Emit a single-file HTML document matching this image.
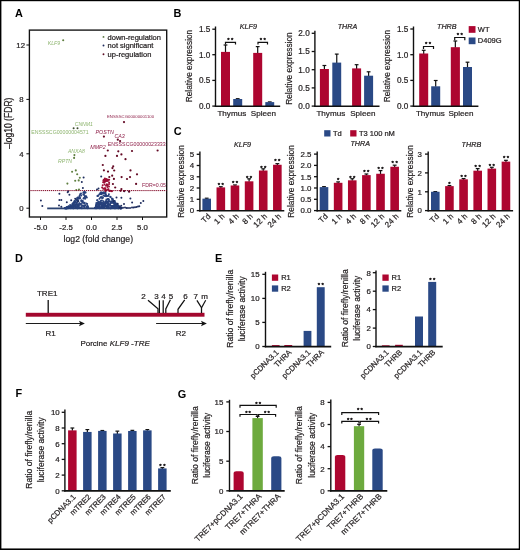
<!DOCTYPE html>
<html lang="en">
<head>
<meta charset="utf-8">
<title>Figure</title>
<style>
html,body{margin:0;padding:0;background:#fff;}
body{width:520px;height:550px;overflow:hidden;}
svg{display:block;font-family:"Liberation Sans",sans-serif;}
text{stroke-width:0.22px;paint-order:stroke;stroke-linejoin:round;}
text.k{stroke:#231F20;}
</style>
</head>
<body>
<svg width="520" height="550" viewBox="0 0 520 550">
<rect x="0" y="0" width="520" height="550" fill="#ffffff"/>
<text font-size="10.9" text-anchor="start" fill="#000" font-weight="bold" x="15.00" y="16.70" >A</text>
<text font-size="10.9" text-anchor="start" fill="#000" font-weight="bold" x="173.60" y="16.70" >B</text>
<text font-size="10.9" text-anchor="start" fill="#000" font-weight="bold" x="173.80" y="134.80" >C</text>
<text font-size="10.9" text-anchor="start" fill="#000" font-weight="bold" x="15.00" y="262.10" >D</text>
<text font-size="10.9" text-anchor="start" fill="#000" font-weight="bold" x="215.00" y="261.70" >E</text>
<text font-size="10.9" text-anchor="start" fill="#000" font-weight="bold" x="15.60" y="397.40" >F</text>
<text font-size="10.9" text-anchor="start" fill="#000" font-weight="bold" x="177.80" y="397.70" >G</text>
<rect x="29.4" y="30.1" width="137.29999999999998" height="186.9" fill="none" stroke="#111111" stroke-width="1.35"/>
<line x1="26.40" y1="208.20" x2="29.40" y2="208.20" stroke="#111111" stroke-width="1.0" />
<text font-size="7.8" text-anchor="end" fill="#231F20" class="k" x="23.60" y="211.00" >0</text>
<line x1="26.40" y1="153.80" x2="29.40" y2="153.80" stroke="#111111" stroke-width="1.0" />
<text font-size="7.8" text-anchor="end" fill="#231F20" class="k" x="23.60" y="156.60" >4</text>
<line x1="26.40" y1="99.40" x2="29.40" y2="99.40" stroke="#111111" stroke-width="1.0" />
<text font-size="7.8" text-anchor="end" fill="#231F20" class="k" x="23.60" y="102.20" >8</text>
<line x1="26.40" y1="45.00" x2="29.40" y2="45.00" stroke="#111111" stroke-width="1.0" />
<text font-size="7.8" text-anchor="end" fill="#231F20" class="k" x="25.00" y="47.80" >12</text>
<line x1="40.50" y1="217.00" x2="40.50" y2="220.00" stroke="#111111" stroke-width="1.0" />
<text font-size="7.8" text-anchor="middle" fill="#231F20" class="k" x="40.50" y="230.00" >-5.0</text>
<line x1="66.00" y1="217.00" x2="66.00" y2="220.00" stroke="#111111" stroke-width="1.0" />
<text font-size="7.8" text-anchor="middle" fill="#231F20" class="k" x="66.00" y="230.00" >-2.5</text>
<line x1="91.50" y1="217.00" x2="91.50" y2="220.00" stroke="#111111" stroke-width="1.0" />
<text font-size="7.8" text-anchor="middle" fill="#231F20" class="k" x="91.50" y="230.00" >0.0</text>
<line x1="117.00" y1="217.00" x2="117.00" y2="220.00" stroke="#111111" stroke-width="1.0" />
<text font-size="7.8" text-anchor="middle" fill="#231F20" class="k" x="117.00" y="230.00" >2.5</text>
<line x1="142.50" y1="217.00" x2="142.50" y2="220.00" stroke="#111111" stroke-width="1.0" />
<text font-size="7.8" text-anchor="middle" fill="#231F20" class="k" x="142.50" y="230.00" >5.0</text>
<text transform="translate(12.20,123.30) rotate(-90)" class="k" font-size="10.2" text-anchor="middle" fill="#231F20" textLength="51.5" lengthAdjust="spacingAndGlyphs">–log10 (FDR)</text>
<text font-size="9.8" text-anchor="middle" fill="#231F20" class="k" textLength="69.5" lengthAdjust="spacingAndGlyphs" x="98.30" y="242.20" >log2 (fold change)</text>
<rect x="47.20" y="207.50" width="72.00" height="1.80" fill="#2B4270"/>
<circle cx="72.5" cy="207.9" r="1.0" fill="#27417C"/>
<circle cx="80.2" cy="207.9" r="1.0" fill="#27417C"/>
<circle cx="77.5" cy="205.8" r="1.0" fill="#27417C"/>
<circle cx="66.4" cy="208.0" r="1.0" fill="#27417C"/>
<circle cx="65.9" cy="208.1" r="1.0" fill="#27417C"/>
<circle cx="66.6" cy="208.2" r="1.0" fill="#27417C"/>
<circle cx="74.9" cy="202.1" r="1.0" fill="#27417C"/>
<circle cx="67.9" cy="208.0" r="1.0" fill="#27417C"/>
<circle cx="79.6" cy="195.8" r="1.0" fill="#27417C"/>
<circle cx="78.4" cy="205.2" r="1.0" fill="#27417C"/>
<circle cx="87.7" cy="208.2" r="1.0" fill="#27417C"/>
<circle cx="85.0" cy="205.6" r="1.0" fill="#27417C"/>
<circle cx="68.4" cy="208.1" r="1.0" fill="#27417C"/>
<circle cx="72.2" cy="204.3" r="1.0" fill="#27417C"/>
<circle cx="69.2" cy="207.0" r="1.0" fill="#27417C"/>
<circle cx="79.9" cy="205.1" r="1.0" fill="#27417C"/>
<circle cx="77.8" cy="208.0" r="1.0" fill="#27417C"/>
<circle cx="66.4" cy="208.1" r="1.0" fill="#27417C"/>
<circle cx="80.9" cy="204.0" r="1.0" fill="#27417C"/>
<circle cx="72.3" cy="205.7" r="1.0" fill="#27417C"/>
<circle cx="75.6" cy="206.8" r="1.0" fill="#27417C"/>
<circle cx="83.5" cy="198.6" r="1.0" fill="#27417C"/>
<circle cx="70.7" cy="206.5" r="1.0" fill="#27417C"/>
<circle cx="77.2" cy="199.4" r="1.0" fill="#27417C"/>
<circle cx="82.0" cy="205.7" r="1.0" fill="#27417C"/>
<circle cx="87.8" cy="208.1" r="1.0" fill="#27417C"/>
<circle cx="74.7" cy="203.0" r="1.0" fill="#27417C"/>
<circle cx="68.5" cy="207.5" r="1.0" fill="#27417C"/>
<circle cx="65.9" cy="208.0" r="1.0" fill="#27417C"/>
<circle cx="82.8" cy="201.1" r="1.0" fill="#27417C"/>
<circle cx="85.4" cy="205.3" r="1.0" fill="#27417C"/>
<circle cx="81.2" cy="201.1" r="1.0" fill="#27417C"/>
<circle cx="78.5" cy="204.5" r="1.0" fill="#27417C"/>
<circle cx="84.6" cy="193.1" r="1.0" fill="#27417C"/>
<circle cx="76.0" cy="203.1" r="1.0" fill="#27417C"/>
<circle cx="66.4" cy="207.8" r="1.0" fill="#27417C"/>
<circle cx="80.1" cy="194.3" r="1.0" fill="#27417C"/>
<circle cx="84.2" cy="205.7" r="1.0" fill="#27417C"/>
<circle cx="74.0" cy="204.3" r="1.0" fill="#27417C"/>
<circle cx="65.5" cy="208.1" r="1.0" fill="#27417C"/>
<circle cx="68.9" cy="208.1" r="1.0" fill="#27417C"/>
<circle cx="66.4" cy="207.8" r="1.0" fill="#27417C"/>
<circle cx="68.0" cy="208.0" r="1.0" fill="#27417C"/>
<circle cx="74.1" cy="202.3" r="1.0" fill="#27417C"/>
<circle cx="66.9" cy="207.9" r="1.0" fill="#27417C"/>
<circle cx="77.8" cy="198.8" r="1.0" fill="#27417C"/>
<circle cx="84.1" cy="195.0" r="1.0" fill="#27417C"/>
<circle cx="71.5" cy="206.9" r="1.0" fill="#27417C"/>
<circle cx="73.4" cy="202.8" r="1.0" fill="#27417C"/>
<circle cx="87.3" cy="207.8" r="1.0" fill="#27417C"/>
<circle cx="69.1" cy="207.9" r="1.0" fill="#27417C"/>
<circle cx="70.4" cy="206.9" r="1.0" fill="#27417C"/>
<circle cx="78.7" cy="206.5" r="1.0" fill="#27417C"/>
<circle cx="65.1" cy="208.2" r="1.0" fill="#27417C"/>
<circle cx="73.6" cy="205.3" r="1.0" fill="#27417C"/>
<circle cx="87.2" cy="203.9" r="1.0" fill="#27417C"/>
<circle cx="77.0" cy="203.1" r="1.0" fill="#27417C"/>
<circle cx="80.8" cy="208.0" r="1.0" fill="#27417C"/>
<circle cx="86.0" cy="196.9" r="1.0" fill="#27417C"/>
<circle cx="85.4" cy="196.5" r="1.0" fill="#27417C"/>
<circle cx="74.1" cy="206.4" r="1.0" fill="#27417C"/>
<circle cx="67.4" cy="207.5" r="1.0" fill="#27417C"/>
<circle cx="66.5" cy="208.2" r="1.0" fill="#27417C"/>
<circle cx="69.9" cy="208.0" r="1.0" fill="#27417C"/>
<circle cx="72.9" cy="208.1" r="1.0" fill="#27417C"/>
<circle cx="65.0" cy="208.2" r="1.0" fill="#27417C"/>
<circle cx="67.4" cy="207.9" r="1.0" fill="#27417C"/>
<circle cx="65.6" cy="208.0" r="1.0" fill="#27417C"/>
<circle cx="79.3" cy="207.4" r="1.0" fill="#27417C"/>
<circle cx="70.9" cy="207.4" r="1.0" fill="#27417C"/>
<circle cx="73.5" cy="207.9" r="1.0" fill="#27417C"/>
<circle cx="84.8" cy="192.0" r="1.0" fill="#27417C"/>
<circle cx="75.9" cy="205.1" r="1.0" fill="#27417C"/>
<circle cx="67.0" cy="208.2" r="1.0" fill="#27417C"/>
<circle cx="73.0" cy="207.4" r="1.0" fill="#27417C"/>
<circle cx="84.3" cy="207.1" r="1.0" fill="#27417C"/>
<circle cx="65.5" cy="208.0" r="1.0" fill="#27417C"/>
<circle cx="77.3" cy="207.6" r="1.0" fill="#27417C"/>
<circle cx="77.7" cy="208.2" r="1.0" fill="#27417C"/>
<circle cx="77.3" cy="197.8" r="1.0" fill="#27417C"/>
<circle cx="85.1" cy="198.7" r="1.0" fill="#27417C"/>
<circle cx="71.1" cy="207.2" r="1.0" fill="#27417C"/>
<circle cx="68.9" cy="206.6" r="1.0" fill="#27417C"/>
<circle cx="77.4" cy="200.7" r="1.0" fill="#27417C"/>
<circle cx="72.7" cy="207.6" r="1.0" fill="#27417C"/>
<circle cx="83.9" cy="192.2" r="1.0" fill="#27417C"/>
<circle cx="84.9" cy="196.3" r="1.0" fill="#27417C"/>
<circle cx="84.1" cy="197.8" r="1.0" fill="#27417C"/>
<circle cx="70.3" cy="206.9" r="1.0" fill="#27417C"/>
<circle cx="73.3" cy="208.2" r="1.0" fill="#27417C"/>
<circle cx="65.7" cy="208.2" r="1.0" fill="#27417C"/>
<circle cx="71.0" cy="205.7" r="1.0" fill="#27417C"/>
<circle cx="87.3" cy="206.2" r="1.0" fill="#27417C"/>
<circle cx="86.8" cy="197.4" r="1.0" fill="#27417C"/>
<circle cx="87.3" cy="206.6" r="1.0" fill="#27417C"/>
<circle cx="70.1" cy="207.8" r="1.0" fill="#27417C"/>
<circle cx="69.6" cy="207.9" r="1.0" fill="#27417C"/>
<circle cx="79.5" cy="196.8" r="1.0" fill="#27417C"/>
<circle cx="84.6" cy="202.8" r="1.0" fill="#27417C"/>
<circle cx="80.2" cy="198.0" r="1.0" fill="#27417C"/>
<circle cx="67.0" cy="207.7" r="1.0" fill="#27417C"/>
<circle cx="86.2" cy="196.9" r="1.0" fill="#27417C"/>
<circle cx="82.5" cy="202.8" r="1.0" fill="#27417C"/>
<circle cx="69.2" cy="206.4" r="1.0" fill="#27417C"/>
<circle cx="72.7" cy="204.0" r="1.0" fill="#27417C"/>
<circle cx="87.6" cy="207.2" r="1.0" fill="#27417C"/>
<circle cx="74.4" cy="201.3" r="1.0" fill="#27417C"/>
<circle cx="81.9" cy="207.1" r="1.0" fill="#27417C"/>
<circle cx="68.0" cy="208.1" r="1.0" fill="#27417C"/>
<circle cx="86.1" cy="196.3" r="1.0" fill="#27417C"/>
<circle cx="68.4" cy="206.7" r="1.0" fill="#27417C"/>
<circle cx="87.8" cy="206.9" r="1.0" fill="#27417C"/>
<circle cx="73.2" cy="205.6" r="1.0" fill="#27417C"/>
<circle cx="68.1" cy="208.2" r="1.0" fill="#27417C"/>
<circle cx="87.6" cy="206.1" r="1.0" fill="#27417C"/>
<circle cx="77.3" cy="198.5" r="1.0" fill="#27417C"/>
<circle cx="75.1" cy="201.4" r="1.0" fill="#27417C"/>
<circle cx="84.2" cy="206.6" r="1.0" fill="#27417C"/>
<circle cx="70.9" cy="207.5" r="1.0" fill="#27417C"/>
<circle cx="70.6" cy="206.5" r="1.0" fill="#27417C"/>
<circle cx="71.0" cy="207.0" r="1.0" fill="#27417C"/>
<circle cx="68.1" cy="206.7" r="1.0" fill="#27417C"/>
<circle cx="73.2" cy="206.2" r="1.0" fill="#27417C"/>
<circle cx="78.6" cy="197.7" r="1.0" fill="#27417C"/>
<circle cx="74.8" cy="201.2" r="1.0" fill="#27417C"/>
<circle cx="76.7" cy="204.3" r="1.0" fill="#27417C"/>
<circle cx="77.2" cy="208.2" r="1.0" fill="#27417C"/>
<circle cx="75.3" cy="207.5" r="1.0" fill="#27417C"/>
<circle cx="65.1" cy="208.2" r="1.0" fill="#27417C"/>
<circle cx="69.0" cy="207.4" r="1.0" fill="#27417C"/>
<circle cx="81.9" cy="201.4" r="1.0" fill="#27417C"/>
<circle cx="72.6" cy="206.1" r="1.0" fill="#27417C"/>
<circle cx="77.9" cy="200.2" r="1.0" fill="#27417C"/>
<circle cx="67.5" cy="207.6" r="1.0" fill="#27417C"/>
<circle cx="70.8" cy="207.6" r="1.0" fill="#27417C"/>
<circle cx="83.0" cy="202.3" r="1.0" fill="#27417C"/>
<circle cx="78.1" cy="200.5" r="1.0" fill="#27417C"/>
<circle cx="86.3" cy="203.4" r="1.0" fill="#27417C"/>
<circle cx="79.3" cy="203.5" r="1.0" fill="#27417C"/>
<circle cx="76.9" cy="202.2" r="1.0" fill="#27417C"/>
<circle cx="75.5" cy="204.8" r="1.0" fill="#27417C"/>
<circle cx="76.1" cy="199.6" r="1.0" fill="#27417C"/>
<circle cx="81.3" cy="195.5" r="1.0" fill="#27417C"/>
<circle cx="87.0" cy="206.9" r="1.0" fill="#27417C"/>
<circle cx="78.0" cy="197.6" r="1.0" fill="#27417C"/>
<circle cx="84.6" cy="207.4" r="1.0" fill="#27417C"/>
<circle cx="67.8" cy="207.7" r="1.0" fill="#27417C"/>
<circle cx="66.7" cy="208.1" r="1.0" fill="#27417C"/>
<circle cx="66.7" cy="207.7" r="1.0" fill="#27417C"/>
<circle cx="83.3" cy="194.3" r="1.0" fill="#27417C"/>
<circle cx="68.6" cy="206.9" r="1.0" fill="#27417C"/>
<circle cx="80.4" cy="207.4" r="1.0" fill="#27417C"/>
<circle cx="85.6" cy="192.6" r="1.0" fill="#27417C"/>
<circle cx="70.1" cy="205.0" r="1.0" fill="#27417C"/>
<circle cx="74.3" cy="205.7" r="1.0" fill="#27417C"/>
<circle cx="88.1" cy="207.4" r="1.0" fill="#27417C"/>
<circle cx="68.8" cy="207.5" r="1.0" fill="#27417C"/>
<circle cx="77.0" cy="206.1" r="1.0" fill="#27417C"/>
<circle cx="69.6" cy="207.7" r="1.0" fill="#27417C"/>
<circle cx="81.8" cy="208.2" r="1.0" fill="#27417C"/>
<circle cx="77.9" cy="204.8" r="1.0" fill="#27417C"/>
<circle cx="65.4" cy="208.2" r="1.0" fill="#27417C"/>
<circle cx="79.5" cy="203.3" r="1.0" fill="#27417C"/>
<circle cx="66.5" cy="207.5" r="1.0" fill="#27417C"/>
<circle cx="83.4" cy="192.5" r="1.0" fill="#27417C"/>
<circle cx="67.4" cy="208.0" r="1.0" fill="#27417C"/>
<circle cx="65.9" cy="207.9" r="1.0" fill="#27417C"/>
<circle cx="71.3" cy="208.0" r="1.0" fill="#27417C"/>
<circle cx="74.8" cy="201.2" r="1.0" fill="#27417C"/>
<circle cx="84.1" cy="206.0" r="1.0" fill="#27417C"/>
<circle cx="68.5" cy="206.4" r="1.0" fill="#27417C"/>
<circle cx="78.3" cy="201.2" r="1.0" fill="#27417C"/>
<circle cx="67.1" cy="208.2" r="1.0" fill="#27417C"/>
<circle cx="81.0" cy="204.0" r="1.0" fill="#27417C"/>
<circle cx="66.7" cy="207.5" r="1.0" fill="#27417C"/>
<circle cx="79.8" cy="198.4" r="1.0" fill="#27417C"/>
<circle cx="67.0" cy="207.4" r="1.0" fill="#27417C"/>
<circle cx="66.6" cy="207.6" r="1.0" fill="#27417C"/>
<circle cx="75.6" cy="206.5" r="1.0" fill="#27417C"/>
<circle cx="77.9" cy="198.0" r="1.0" fill="#27417C"/>
<circle cx="71.2" cy="208.0" r="1.0" fill="#27417C"/>
<circle cx="77.3" cy="206.9" r="1.0" fill="#27417C"/>
<circle cx="67.6" cy="208.1" r="1.0" fill="#27417C"/>
<circle cx="66.2" cy="208.2" r="1.0" fill="#27417C"/>
<circle cx="72.3" cy="207.3" r="1.0" fill="#27417C"/>
<circle cx="82.7" cy="205.6" r="1.0" fill="#27417C"/>
<circle cx="76.7" cy="207.4" r="1.0" fill="#27417C"/>
<circle cx="73.1" cy="208.2" r="1.0" fill="#27417C"/>
<circle cx="70.8" cy="208.2" r="1.0" fill="#27417C"/>
<circle cx="82.1" cy="201.5" r="1.0" fill="#27417C"/>
<circle cx="69.4" cy="207.3" r="1.0" fill="#27417C"/>
<circle cx="86.8" cy="207.8" r="1.0" fill="#27417C"/>
<circle cx="84.1" cy="203.5" r="1.0" fill="#27417C"/>
<circle cx="76.5" cy="200.6" r="1.0" fill="#27417C"/>
<circle cx="74.2" cy="205.6" r="1.0" fill="#27417C"/>
<circle cx="81.0" cy="193.4" r="1.0" fill="#27417C"/>
<circle cx="73.0" cy="203.5" r="1.0" fill="#27417C"/>
<circle cx="81.5" cy="200.2" r="1.0" fill="#27417C"/>
<circle cx="74.4" cy="206.6" r="1.0" fill="#27417C"/>
<circle cx="66.3" cy="208.2" r="1.0" fill="#27417C"/>
<circle cx="97.1" cy="200.3" r="1.0" fill="#27417C"/>
<circle cx="101.9" cy="207.1" r="1.0" fill="#27417C"/>
<circle cx="97.4" cy="196.1" r="1.0" fill="#27417C"/>
<circle cx="118.1" cy="206.6" r="1.0" fill="#27417C"/>
<circle cx="102.6" cy="206.2" r="1.0" fill="#27417C"/>
<circle cx="102.9" cy="203.1" r="1.0" fill="#27417C"/>
<circle cx="99.3" cy="203.3" r="1.0" fill="#27417C"/>
<circle cx="102.1" cy="192.7" r="1.0" fill="#27417C"/>
<circle cx="120.8" cy="208.0" r="1.0" fill="#27417C"/>
<circle cx="101.6" cy="192.6" r="1.0" fill="#27417C"/>
<circle cx="103.3" cy="204.7" r="1.0" fill="#27417C"/>
<circle cx="95.2" cy="208.2" r="1.0" fill="#27417C"/>
<circle cx="107.7" cy="202.4" r="1.0" fill="#27417C"/>
<circle cx="100.5" cy="202.3" r="1.0" fill="#27417C"/>
<circle cx="95.3" cy="208.1" r="1.0" fill="#27417C"/>
<circle cx="97.6" cy="204.1" r="1.0" fill="#27417C"/>
<circle cx="96.3" cy="208.2" r="1.0" fill="#27417C"/>
<circle cx="103.2" cy="206.4" r="1.0" fill="#27417C"/>
<circle cx="110.6" cy="203.2" r="1.0" fill="#27417C"/>
<circle cx="114.9" cy="204.6" r="1.0" fill="#27417C"/>
<circle cx="114.0" cy="201.6" r="1.0" fill="#27417C"/>
<circle cx="105.4" cy="205.1" r="1.0" fill="#27417C"/>
<circle cx="121.1" cy="208.2" r="1.0" fill="#27417C"/>
<circle cx="114.2" cy="204.2" r="1.0" fill="#27417C"/>
<circle cx="96.4" cy="203.1" r="1.0" fill="#27417C"/>
<circle cx="118.7" cy="207.1" r="1.0" fill="#27417C"/>
<circle cx="114.5" cy="202.8" r="1.0" fill="#27417C"/>
<circle cx="98.9" cy="202.0" r="1.0" fill="#27417C"/>
<circle cx="108.5" cy="195.7" r="1.0" fill="#27417C"/>
<circle cx="116.4" cy="204.5" r="1.0" fill="#27417C"/>
<circle cx="110.6" cy="197.1" r="1.0" fill="#27417C"/>
<circle cx="113.2" cy="202.9" r="1.0" fill="#27417C"/>
<circle cx="101.2" cy="208.1" r="1.0" fill="#27417C"/>
<circle cx="98.7" cy="204.6" r="1.0" fill="#27417C"/>
<circle cx="98.0" cy="195.7" r="1.0" fill="#27417C"/>
<circle cx="109.9" cy="201.2" r="1.0" fill="#27417C"/>
<circle cx="111.7" cy="201.8" r="1.0" fill="#27417C"/>
<circle cx="108.1" cy="208.2" r="1.0" fill="#27417C"/>
<circle cx="116.2" cy="204.9" r="1.0" fill="#27417C"/>
<circle cx="108.4" cy="201.8" r="1.0" fill="#27417C"/>
<circle cx="112.5" cy="208.0" r="1.0" fill="#27417C"/>
<circle cx="114.6" cy="207.3" r="1.0" fill="#27417C"/>
<circle cx="97.2" cy="206.4" r="1.0" fill="#27417C"/>
<circle cx="114.4" cy="207.5" r="1.0" fill="#27417C"/>
<circle cx="114.7" cy="201.3" r="1.0" fill="#27417C"/>
<circle cx="108.2" cy="204.3" r="1.0" fill="#27417C"/>
<circle cx="107.8" cy="198.9" r="1.0" fill="#27417C"/>
<circle cx="115.4" cy="205.2" r="1.0" fill="#27417C"/>
<circle cx="112.1" cy="208.0" r="1.0" fill="#27417C"/>
<circle cx="99.1" cy="206.1" r="1.0" fill="#27417C"/>
<circle cx="114.7" cy="207.0" r="1.0" fill="#27417C"/>
<circle cx="110.1" cy="208.2" r="1.0" fill="#27417C"/>
<circle cx="96.8" cy="206.8" r="1.0" fill="#27417C"/>
<circle cx="112.9" cy="202.7" r="1.0" fill="#27417C"/>
<circle cx="113.0" cy="206.7" r="1.0" fill="#27417C"/>
<circle cx="108.8" cy="203.2" r="1.0" fill="#27417C"/>
<circle cx="107.5" cy="207.5" r="1.0" fill="#27417C"/>
<circle cx="118.7" cy="208.0" r="1.0" fill="#27417C"/>
<circle cx="120.9" cy="207.9" r="1.0" fill="#27417C"/>
<circle cx="95.7" cy="207.6" r="1.0" fill="#27417C"/>
<circle cx="116.8" cy="204.0" r="1.0" fill="#27417C"/>
<circle cx="107.0" cy="205.9" r="1.0" fill="#27417C"/>
<circle cx="100.7" cy="193.1" r="1.0" fill="#27417C"/>
<circle cx="100.7" cy="200.9" r="1.0" fill="#27417C"/>
<circle cx="98.9" cy="202.0" r="1.0" fill="#27417C"/>
<circle cx="120.3" cy="208.2" r="1.0" fill="#27417C"/>
<circle cx="116.8" cy="206.6" r="1.0" fill="#27417C"/>
<circle cx="118.5" cy="206.8" r="1.0" fill="#27417C"/>
<circle cx="101.3" cy="194.3" r="1.0" fill="#27417C"/>
<circle cx="108.0" cy="208.1" r="1.0" fill="#27417C"/>
<circle cx="95.3" cy="208.1" r="1.0" fill="#27417C"/>
<circle cx="107.1" cy="205.5" r="1.0" fill="#27417C"/>
<circle cx="98.9" cy="204.9" r="1.0" fill="#27417C"/>
<circle cx="103.5" cy="195.6" r="1.0" fill="#27417C"/>
<circle cx="95.2" cy="208.1" r="1.0" fill="#27417C"/>
<circle cx="117.3" cy="208.0" r="1.0" fill="#27417C"/>
<circle cx="119.6" cy="207.4" r="1.0" fill="#27417C"/>
<circle cx="118.9" cy="207.9" r="1.0" fill="#27417C"/>
<circle cx="105.0" cy="204.2" r="1.0" fill="#27417C"/>
<circle cx="121.5" cy="208.2" r="1.0" fill="#27417C"/>
<circle cx="104.7" cy="203.6" r="1.0" fill="#27417C"/>
<circle cx="102.4" cy="208.0" r="1.0" fill="#27417C"/>
<circle cx="97.9" cy="195.7" r="1.0" fill="#27417C"/>
<circle cx="102.7" cy="193.4" r="1.0" fill="#27417C"/>
<circle cx="101.8" cy="206.0" r="1.0" fill="#27417C"/>
<circle cx="108.6" cy="206.9" r="1.0" fill="#27417C"/>
<circle cx="105.0" cy="192.9" r="1.0" fill="#27417C"/>
<circle cx="118.5" cy="206.4" r="1.0" fill="#27417C"/>
<circle cx="111.8" cy="198.4" r="1.0" fill="#27417C"/>
<circle cx="119.9" cy="207.8" r="1.0" fill="#27417C"/>
<circle cx="114.1" cy="208.1" r="1.0" fill="#27417C"/>
<circle cx="114.5" cy="206.0" r="1.0" fill="#27417C"/>
<circle cx="115.0" cy="204.8" r="1.0" fill="#27417C"/>
<circle cx="102.7" cy="208.0" r="1.0" fill="#27417C"/>
<circle cx="119.6" cy="208.1" r="1.0" fill="#27417C"/>
<circle cx="107.6" cy="204.9" r="1.0" fill="#27417C"/>
<circle cx="103.0" cy="197.8" r="1.0" fill="#27417C"/>
<circle cx="120.9" cy="208.2" r="1.0" fill="#27417C"/>
<circle cx="112.5" cy="206.5" r="1.0" fill="#27417C"/>
<circle cx="109.9" cy="204.7" r="1.0" fill="#27417C"/>
<circle cx="99.6" cy="207.1" r="1.0" fill="#27417C"/>
<circle cx="100.7" cy="194.1" r="1.0" fill="#27417C"/>
<circle cx="108.3" cy="206.5" r="1.0" fill="#27417C"/>
<circle cx="119.0" cy="206.3" r="1.0" fill="#27417C"/>
<circle cx="107.0" cy="207.3" r="1.0" fill="#27417C"/>
<circle cx="100.3" cy="207.8" r="1.0" fill="#27417C"/>
<circle cx="104.2" cy="207.7" r="1.0" fill="#27417C"/>
<circle cx="101.5" cy="206.0" r="1.0" fill="#27417C"/>
<circle cx="110.2" cy="196.8" r="1.0" fill="#27417C"/>
<circle cx="114.9" cy="206.4" r="1.0" fill="#27417C"/>
<circle cx="106.1" cy="202.0" r="1.0" fill="#27417C"/>
<circle cx="105.1" cy="205.0" r="1.0" fill="#27417C"/>
<circle cx="96.8" cy="206.7" r="1.0" fill="#27417C"/>
<circle cx="120.7" cy="208.2" r="1.0" fill="#27417C"/>
<circle cx="108.4" cy="200.0" r="1.0" fill="#27417C"/>
<circle cx="117.9" cy="207.9" r="1.0" fill="#27417C"/>
<circle cx="102.3" cy="206.2" r="1.0" fill="#27417C"/>
<circle cx="105.7" cy="203.3" r="1.0" fill="#27417C"/>
<circle cx="120.3" cy="207.6" r="1.0" fill="#27417C"/>
<circle cx="118.2" cy="208.2" r="1.0" fill="#27417C"/>
<circle cx="96.0" cy="205.5" r="1.0" fill="#27417C"/>
<circle cx="118.8" cy="207.5" r="1.0" fill="#27417C"/>
<circle cx="110.6" cy="208.2" r="1.0" fill="#27417C"/>
<circle cx="105.5" cy="193.6" r="1.0" fill="#27417C"/>
<circle cx="116.9" cy="204.9" r="1.0" fill="#27417C"/>
<circle cx="120.8" cy="208.2" r="1.0" fill="#27417C"/>
<circle cx="98.1" cy="207.2" r="1.0" fill="#27417C"/>
<circle cx="108.9" cy="199.4" r="1.0" fill="#27417C"/>
<circle cx="120.0" cy="207.6" r="1.0" fill="#27417C"/>
<circle cx="112.2" cy="201.1" r="1.0" fill="#27417C"/>
<circle cx="107.2" cy="201.5" r="1.0" fill="#27417C"/>
<circle cx="96.2" cy="204.2" r="1.0" fill="#27417C"/>
<circle cx="101.3" cy="193.7" r="1.0" fill="#27417C"/>
<circle cx="112.2" cy="206.4" r="1.0" fill="#27417C"/>
<circle cx="98.6" cy="206.1" r="1.0" fill="#27417C"/>
<circle cx="111.9" cy="201.8" r="1.0" fill="#27417C"/>
<circle cx="98.1" cy="207.9" r="1.0" fill="#27417C"/>
<circle cx="109.0" cy="201.3" r="1.0" fill="#27417C"/>
<circle cx="105.4" cy="206.5" r="1.0" fill="#27417C"/>
<circle cx="111.0" cy="208.2" r="1.0" fill="#27417C"/>
<circle cx="103.1" cy="203.1" r="1.0" fill="#27417C"/>
<circle cx="120.4" cy="207.9" r="1.0" fill="#27417C"/>
<circle cx="118.4" cy="207.4" r="1.0" fill="#27417C"/>
<circle cx="101.4" cy="206.2" r="1.0" fill="#27417C"/>
<circle cx="120.5" cy="207.8" r="1.0" fill="#27417C"/>
<circle cx="103.3" cy="208.1" r="1.0" fill="#27417C"/>
<circle cx="108.3" cy="199.1" r="1.0" fill="#27417C"/>
<circle cx="106.2" cy="206.1" r="1.0" fill="#27417C"/>
<circle cx="112.8" cy="199.5" r="1.0" fill="#27417C"/>
<circle cx="101.2" cy="208.1" r="1.0" fill="#27417C"/>
<circle cx="104.1" cy="203.7" r="1.0" fill="#27417C"/>
<circle cx="113.2" cy="207.4" r="1.0" fill="#27417C"/>
<circle cx="116.2" cy="204.9" r="1.0" fill="#27417C"/>
<circle cx="108.5" cy="206.7" r="1.0" fill="#27417C"/>
<circle cx="120.7" cy="208.1" r="1.0" fill="#27417C"/>
<circle cx="116.8" cy="207.7" r="1.0" fill="#27417C"/>
<circle cx="101.0" cy="197.3" r="1.0" fill="#27417C"/>
<circle cx="103.0" cy="193.0" r="1.0" fill="#27417C"/>
<circle cx="108.2" cy="206.9" r="1.0" fill="#27417C"/>
<circle cx="101.1" cy="203.8" r="1.0" fill="#27417C"/>
<circle cx="112.7" cy="199.1" r="1.0" fill="#27417C"/>
<circle cx="99.0" cy="204.2" r="1.0" fill="#27417C"/>
<circle cx="100.8" cy="192.4" r="1.0" fill="#27417C"/>
<circle cx="98.9" cy="208.0" r="1.0" fill="#27417C"/>
<circle cx="96.8" cy="205.7" r="1.0" fill="#27417C"/>
<circle cx="118.8" cy="206.5" r="1.0" fill="#27417C"/>
<circle cx="114.5" cy="200.9" r="1.0" fill="#27417C"/>
<circle cx="119.7" cy="208.0" r="1.0" fill="#27417C"/>
<circle cx="100.1" cy="193.4" r="1.0" fill="#27417C"/>
<circle cx="114.8" cy="208.2" r="1.0" fill="#27417C"/>
<circle cx="112.7" cy="205.9" r="1.0" fill="#27417C"/>
<circle cx="105.0" cy="205.1" r="1.0" fill="#27417C"/>
<circle cx="99.7" cy="208.2" r="1.0" fill="#27417C"/>
<circle cx="102.6" cy="204.8" r="1.0" fill="#27417C"/>
<circle cx="120.3" cy="208.2" r="1.0" fill="#27417C"/>
<circle cx="120.6" cy="208.1" r="1.0" fill="#27417C"/>
<circle cx="104.6" cy="196.0" r="1.0" fill="#27417C"/>
<circle cx="116.8" cy="207.0" r="1.0" fill="#27417C"/>
<circle cx="96.5" cy="205.7" r="1.0" fill="#27417C"/>
<circle cx="105.0" cy="193.7" r="1.0" fill="#27417C"/>
<circle cx="100.3" cy="204.6" r="1.0" fill="#27417C"/>
<circle cx="118.8" cy="208.2" r="1.0" fill="#27417C"/>
<circle cx="106.0" cy="196.2" r="1.0" fill="#27417C"/>
<circle cx="115.4" cy="208.1" r="1.0" fill="#27417C"/>
<circle cx="96.1" cy="208.1" r="1.0" fill="#27417C"/>
<circle cx="119.4" cy="208.0" r="1.0" fill="#27417C"/>
<circle cx="114.9" cy="202.4" r="1.0" fill="#27417C"/>
<circle cx="104.1" cy="205.9" r="1.0" fill="#27417C"/>
<circle cx="120.4" cy="207.9" r="1.0" fill="#27417C"/>
<circle cx="102.1" cy="198.3" r="1.0" fill="#27417C"/>
<circle cx="103.5" cy="205.8" r="1.0" fill="#27417C"/>
<circle cx="95.3" cy="208.0" r="1.0" fill="#27417C"/>
<circle cx="119.3" cy="207.4" r="1.0" fill="#27417C"/>
<circle cx="120.0" cy="208.2" r="1.0" fill="#27417C"/>
<circle cx="101.4" cy="202.8" r="1.0" fill="#27417C"/>
<circle cx="120.4" cy="207.6" r="1.0" fill="#27417C"/>
<circle cx="105.4" cy="206.1" r="1.0" fill="#27417C"/>
<circle cx="106.5" cy="202.5" r="1.0" fill="#27417C"/>
<circle cx="119.6" cy="208.1" r="1.0" fill="#27417C"/>
<circle cx="116.3" cy="205.0" r="1.0" fill="#27417C"/>
<circle cx="116.8" cy="205.3" r="1.0" fill="#27417C"/>
<circle cx="111.2" cy="205.9" r="1.0" fill="#27417C"/>
<circle cx="103.6" cy="204.6" r="1.0" fill="#27417C"/>
<circle cx="115.8" cy="208.1" r="1.0" fill="#27417C"/>
<circle cx="100.4" cy="197.5" r="1.0" fill="#27417C"/>
<circle cx="101.7" cy="207.9" r="1.0" fill="#27417C"/>
<circle cx="96.1" cy="206.2" r="1.0" fill="#27417C"/>
<circle cx="103.8" cy="192.3" r="1.0" fill="#27417C"/>
<circle cx="118.4" cy="205.7" r="1.0" fill="#27417C"/>
<circle cx="102.2" cy="207.8" r="1.0" fill="#27417C"/>
<circle cx="97.7" cy="202.4" r="1.0" fill="#27417C"/>
<circle cx="113.9" cy="205.7" r="1.0" fill="#27417C"/>
<circle cx="101.4" cy="203.8" r="1.0" fill="#27417C"/>
<circle cx="111.5" cy="201.8" r="1.0" fill="#27417C"/>
<circle cx="114.9" cy="202.9" r="1.0" fill="#27417C"/>
<circle cx="112.7" cy="207.8" r="1.0" fill="#27417C"/>
<circle cx="117.3" cy="207.6" r="1.0" fill="#27417C"/>
<circle cx="110.1" cy="205.1" r="1.0" fill="#27417C"/>
<circle cx="114.6" cy="207.6" r="1.0" fill="#27417C"/>
<circle cx="101.7" cy="206.2" r="1.0" fill="#27417C"/>
<circle cx="99.2" cy="194.6" r="1.0" fill="#27417C"/>
<circle cx="110.4" cy="205.7" r="1.0" fill="#27417C"/>
<circle cx="105.6" cy="192.0" r="1.0" fill="#27417C"/>
<circle cx="108.5" cy="206.4" r="1.0" fill="#27417C"/>
<circle cx="116.5" cy="205.7" r="1.0" fill="#27417C"/>
<circle cx="121.3" cy="208.2" r="1.0" fill="#27417C"/>
<circle cx="107.7" cy="196.0" r="1.0" fill="#27417C"/>
<circle cx="117.3" cy="204.9" r="1.0" fill="#27417C"/>
<circle cx="96.3" cy="207.2" r="1.0" fill="#27417C"/>
<circle cx="98.3" cy="206.8" r="1.0" fill="#27417C"/>
<circle cx="120.8" cy="208.0" r="1.0" fill="#27417C"/>
<circle cx="119.7" cy="207.9" r="1.0" fill="#27417C"/>
<circle cx="118.0" cy="207.3" r="1.0" fill="#27417C"/>
<circle cx="102.0" cy="197.0" r="1.0" fill="#27417C"/>
<circle cx="120.1" cy="208.2" r="1.0" fill="#27417C"/>
<circle cx="110.9" cy="202.0" r="1.0" fill="#27417C"/>
<circle cx="100.9" cy="204.5" r="1.0" fill="#27417C"/>
<circle cx="98.9" cy="206.7" r="1.0" fill="#27417C"/>
<circle cx="101.9" cy="200.6" r="1.0" fill="#27417C"/>
<circle cx="112.3" cy="207.2" r="1.0" fill="#27417C"/>
<circle cx="95.5" cy="208.0" r="1.0" fill="#27417C"/>
<circle cx="113.0" cy="207.5" r="1.0" fill="#27417C"/>
<circle cx="103.4" cy="206.7" r="1.0" fill="#27417C"/>
<circle cx="116.1" cy="206.1" r="1.0" fill="#27417C"/>
<circle cx="96.9" cy="207.9" r="1.0" fill="#27417C"/>
<circle cx="105.6" cy="201.5" r="1.0" fill="#27417C"/>
<circle cx="112.0" cy="207.9" r="1.0" fill="#27417C"/>
<circle cx="99.5" cy="198.7" r="1.0" fill="#27417C"/>
<circle cx="106.0" cy="205.7" r="1.0" fill="#27417C"/>
<circle cx="103.3" cy="192.9" r="1.0" fill="#27417C"/>
<circle cx="103.4" cy="201.2" r="1.0" fill="#27417C"/>
<circle cx="104.6" cy="203.8" r="1.0" fill="#27417C"/>
<circle cx="117.9" cy="205.2" r="1.0" fill="#27417C"/>
<circle cx="104.8" cy="206.8" r="1.0" fill="#27417C"/>
<circle cx="114.3" cy="207.5" r="1.0" fill="#27417C"/>
<circle cx="95.4" cy="207.8" r="1.0" fill="#27417C"/>
<circle cx="106.3" cy="196.0" r="1.0" fill="#27417C"/>
<circle cx="105.9" cy="194.6" r="1.0" fill="#27417C"/>
<circle cx="107.3" cy="207.1" r="1.0" fill="#27417C"/>
<circle cx="95.6" cy="207.5" r="1.0" fill="#27417C"/>
<circle cx="112.0" cy="198.8" r="1.0" fill="#27417C"/>
<circle cx="97.5" cy="200.2" r="1.0" fill="#27417C"/>
<circle cx="105.0" cy="202.3" r="1.0" fill="#27417C"/>
<circle cx="99.0" cy="205.7" r="1.0" fill="#27417C"/>
<circle cx="108.9" cy="194.2" r="1.0" fill="#27417C"/>
<circle cx="98.1" cy="202.6" r="1.0" fill="#27417C"/>
<circle cx="116.4" cy="203.5" r="1.0" fill="#27417C"/>
<circle cx="100.4" cy="207.5" r="1.0" fill="#27417C"/>
<circle cx="120.0" cy="207.2" r="1.0" fill="#27417C"/>
<circle cx="107.9" cy="208.0" r="1.0" fill="#27417C"/>
<circle cx="119.6" cy="207.9" r="1.0" fill="#27417C"/>
<circle cx="119.0" cy="207.3" r="1.0" fill="#27417C"/>
<circle cx="116.9" cy="207.9" r="1.0" fill="#27417C"/>
<circle cx="115.9" cy="207.6" r="1.0" fill="#27417C"/>
<circle cx="105.8" cy="195.4" r="1.0" fill="#27417C"/>
<circle cx="117.0" cy="207.9" r="1.0" fill="#27417C"/>
<circle cx="100.9" cy="204.1" r="1.0" fill="#27417C"/>
<circle cx="108.8" cy="204.4" r="1.0" fill="#27417C"/>
<circle cx="98.4" cy="206.2" r="1.0" fill="#27417C"/>
<circle cx="114.3" cy="201.7" r="1.0" fill="#27417C"/>
<circle cx="96.3" cy="205.6" r="1.0" fill="#27417C"/>
<circle cx="115.1" cy="208.2" r="1.0" fill="#27417C"/>
<circle cx="117.2" cy="208.0" r="1.0" fill="#27417C"/>
<circle cx="111.0" cy="203.1" r="1.0" fill="#27417C"/>
<circle cx="111.7" cy="206.3" r="1.0" fill="#27417C"/>
<circle cx="106.2" cy="200.9" r="1.0" fill="#27417C"/>
<circle cx="106.4" cy="199.4" r="1.0" fill="#27417C"/>
<circle cx="107.0" cy="203.4" r="1.0" fill="#27417C"/>
<circle cx="95.8" cy="206.8" r="1.0" fill="#27417C"/>
<circle cx="108.1" cy="206.3" r="1.0" fill="#27417C"/>
<circle cx="115.3" cy="203.9" r="1.0" fill="#27417C"/>
<circle cx="107.3" cy="207.0" r="1.0" fill="#27417C"/>
<circle cx="107.6" cy="207.6" r="1.0" fill="#27417C"/>
<circle cx="98.6" cy="203.6" r="1.0" fill="#27417C"/>
<circle cx="97.6" cy="203.4" r="1.0" fill="#27417C"/>
<circle cx="108.6" cy="208.1" r="1.0" fill="#27417C"/>
<circle cx="111.9" cy="207.9" r="1.0" fill="#27417C"/>
<circle cx="114.5" cy="203.2" r="1.0" fill="#27417C"/>
<circle cx="108.7" cy="208.0" r="1.0" fill="#27417C"/>
<circle cx="108.5" cy="204.4" r="1.0" fill="#27417C"/>
<circle cx="40.9" cy="200.6" r="1.0" fill="#1F2D5E"/>
<circle cx="42.3" cy="206.0" r="1.0" fill="#1F2D5E"/>
<circle cx="59.4" cy="193.7" r="1.0" fill="#1F2D5E"/>
<circle cx="67.7" cy="192.2" r="1.0" fill="#1F2D5E"/>
<circle cx="69.4" cy="194.8" r="1.0" fill="#1F2D5E"/>
<circle cx="59.4" cy="200.0" r="1.0" fill="#1F2D5E"/>
<circle cx="61.3" cy="200.0" r="1.0" fill="#1F2D5E"/>
<circle cx="71.2" cy="200.2" r="1.0" fill="#1F2D5E"/>
<circle cx="66.8" cy="202.3" r="1.0" fill="#1F2D5E"/>
<circle cx="59.0" cy="205.5" r="1.0" fill="#1F2D5E"/>
<circle cx="61.3" cy="206.7" r="1.0" fill="#1F2D5E"/>
<circle cx="75.2" cy="198.8" r="1.0" fill="#1F2D5E"/>
<circle cx="78.1" cy="201.2" r="1.0" fill="#1F2D5E"/>
<circle cx="83.6" cy="177.6" r="1.0" fill="#1F2D5E"/>
<circle cx="81.8" cy="182.1" r="1.0" fill="#1F2D5E"/>
<circle cx="82.9" cy="187.9" r="1.0" fill="#1F2D5E"/>
<circle cx="68.2" cy="191.2" r="1.0" fill="#1F2D5E"/>
<circle cx="101.2" cy="176.5" r="1.0" fill="#1F2D5E"/>
<circle cx="116.5" cy="197.5" r="1.0" fill="#1F2D5E"/>
<circle cx="121.4" cy="197.7" r="1.0" fill="#1F2D5E"/>
<circle cx="130.4" cy="198.5" r="1.0" fill="#1F2D5E"/>
<circle cx="113.7" cy="200.9" r="1.0" fill="#1F2D5E"/>
<circle cx="132.1" cy="202.5" r="1.0" fill="#1F2D5E"/>
<circle cx="143.3" cy="200.9" r="1.0" fill="#1F2D5E"/>
<circle cx="140.8" cy="202.9" r="1.0" fill="#1F2D5E"/>
<circle cx="117.7" cy="203.7" r="1.0" fill="#1F2D5E"/>
<circle cx="124.0" cy="204.0" r="1.0" fill="#1F2D5E"/>
<circle cx="121.2" cy="205.8" r="1.0" fill="#1F2D5E"/>
<circle cx="124.3" cy="191.3" r="1.0" fill="#1F2D5E"/>
<circle cx="128.9" cy="191.6" r="1.0" fill="#1F2D5E"/>
<circle cx="119.5" cy="207.6" r="1.0" fill="#1F2D5E"/>
<circle cx="121.0" cy="207.9" r="1.0" fill="#1F2D5E"/>
<circle cx="123.0" cy="207.8" r="1.0" fill="#1F2D5E"/>
<circle cx="125.0" cy="207.6" r="1.0" fill="#1F2D5E"/>
<circle cx="126.5" cy="208.0" r="1.0" fill="#1F2D5E"/>
<circle cx="128.0" cy="208.1" r="1.0" fill="#1F2D5E"/>
<circle cx="130.0" cy="207.9" r="1.0" fill="#1F2D5E"/>
<circle cx="132.0" cy="207.6" r="1.0" fill="#1F2D5E"/>
<circle cx="133.5" cy="207.4" r="1.0" fill="#1F2D5E"/>
<circle cx="135.0" cy="207.2" r="1.0" fill="#1F2D5E"/>
<circle cx="136.5" cy="206.9" r="1.0" fill="#1F2D5E"/>
<circle cx="138.0" cy="206.6" r="1.0" fill="#1F2D5E"/>
<circle cx="139.3" cy="206.3" r="1.0" fill="#1F2D5E"/>
<circle cx="97.0" cy="189.5" r="1.0" fill="#1F2D5E"/>
<circle cx="98.5" cy="188.5" r="1.0" fill="#1F2D5E"/>
<circle cx="73.6" cy="128.2" r="1.0" fill="#3F4F30"/>
<circle cx="77.5" cy="128.2" r="1.0" fill="#3F4F30"/>
<circle cx="63.2" cy="40.2" r="1.05" fill="#5F7F40"/>
<circle cx="74.4" cy="155.1" r="1.05" fill="#5F7F40"/>
<circle cx="74.1" cy="157.9" r="1.05" fill="#5F7F40"/>
<circle cx="72.1" cy="171.7" r="1.05" fill="#5F7F40"/>
<circle cx="75.8" cy="170.4" r="1.05" fill="#5F7F40"/>
<circle cx="77.2" cy="174.3" r="1.05" fill="#5F7F40"/>
<circle cx="79.8" cy="177.7" r="1.05" fill="#5F7F40"/>
<circle cx="75.2" cy="180.7" r="1.05" fill="#5F7F40"/>
<circle cx="78.7" cy="180.4" r="1.05" fill="#5F7F40"/>
<circle cx="67.4" cy="183.6" r="1.05" fill="#5F7F40"/>
<circle cx="76.3" cy="190.0" r="1.05" fill="#5F7F40"/>
<circle cx="79.0" cy="189.6" r="1.05" fill="#5F7F40"/>
<circle cx="106.9" cy="184.3" r="1.0" fill="#9C0F35"/>
<circle cx="106.0" cy="190.3" r="1.0" fill="#9C0F35"/>
<circle cx="107.1" cy="185.0" r="1.0" fill="#9C0F35"/>
<circle cx="106.5" cy="180.9" r="1.0" fill="#9C0F35"/>
<circle cx="109.0" cy="186.6" r="1.0" fill="#9C0F35"/>
<circle cx="105.3" cy="179.7" r="1.0" fill="#9C0F35"/>
<circle cx="108.2" cy="179.7" r="1.0" fill="#9C0F35"/>
<circle cx="102.1" cy="187.4" r="1.0" fill="#9C0F35"/>
<circle cx="111.6" cy="191.1" r="1.0" fill="#9C0F35"/>
<circle cx="107.5" cy="186.9" r="1.0" fill="#9C0F35"/>
<circle cx="103.4" cy="180.5" r="1.0" fill="#9C0F35"/>
<circle cx="102.7" cy="185.3" r="1.0" fill="#9C0F35"/>
<circle cx="104.8" cy="180.9" r="1.0" fill="#9C0F35"/>
<circle cx="106.2" cy="178.9" r="1.0" fill="#9C0F35"/>
<circle cx="109.1" cy="184.1" r="1.0" fill="#9C0F35"/>
<circle cx="107.6" cy="185.1" r="1.0" fill="#9C0F35"/>
<circle cx="107.7" cy="184.9" r="1.0" fill="#9C0F35"/>
<circle cx="104.6" cy="184.4" r="1.0" fill="#9C0F35"/>
<circle cx="111.9" cy="191.3" r="1.0" fill="#9C0F35"/>
<circle cx="108.5" cy="189.3" r="1.0" fill="#9C0F35"/>
<circle cx="104.5" cy="182.5" r="1.0" fill="#9C0F35"/>
<circle cx="103.4" cy="182.2" r="1.0" fill="#9C0F35"/>
<circle cx="105.4" cy="188.3" r="1.0" fill="#9C0F35"/>
<circle cx="105.2" cy="189.3" r="1.0" fill="#9C0F35"/>
<circle cx="110.2" cy="190.8" r="1.0" fill="#9C0F35"/>
<circle cx="104.9" cy="178.5" r="1.0" fill="#9C0F35"/>
<circle cx="106.1" cy="190.2" r="1.0" fill="#9C0F35"/>
<circle cx="105.3" cy="191.0" r="1.0" fill="#9C0F35"/>
<circle cx="107.1" cy="179.4" r="1.0" fill="#9C0F35"/>
<circle cx="104.1" cy="188.5" r="1.0" fill="#9C0F35"/>
<circle cx="105.4" cy="179.6" r="1.0" fill="#9C0F35"/>
<circle cx="109.2" cy="190.8" r="1.0" fill="#9C0F35"/>
<circle cx="104.9" cy="180.0" r="1.0" fill="#9C0F35"/>
<circle cx="103.8" cy="179.8" r="1.0" fill="#9C0F35"/>
<circle cx="103.2" cy="188.7" r="1.0" fill="#9C0F35"/>
<circle cx="106.0" cy="185.7" r="1.0" fill="#9C0F35"/>
<circle cx="107.9" cy="180.9" r="1.0" fill="#9C0F35"/>
<circle cx="107.3" cy="180.2" r="1.0" fill="#9C0F35"/>
<circle cx="105.9" cy="180.0" r="1.0" fill="#9C0F35"/>
<circle cx="104.9" cy="181.2" r="1.0" fill="#9C0F35"/>
<circle cx="109.7" cy="190.9" r="1.0" fill="#9C0F35"/>
<circle cx="109.1" cy="182.4" r="1.0" fill="#9C0F35"/>
<circle cx="105.7" cy="181.2" r="1.0" fill="#9C0F35"/>
<circle cx="107.9" cy="189.4" r="1.0" fill="#9C0F35"/>
<circle cx="109.2" cy="179.8" r="1.0" fill="#9C0F35"/>
<circle cx="104.8" cy="181.2" r="1.0" fill="#9C0F35"/>
<circle cx="104.7" cy="188.4" r="1.0" fill="#9C0F35"/>
<circle cx="103.4" cy="182.3" r="1.0" fill="#9C0F35"/>
<circle cx="124.0" cy="122.1" r="1.1" fill="#640A25"/>
<circle cx="103.9" cy="136.6" r="1.1" fill="#640A25"/>
<circle cx="117.8" cy="139.7" r="1.1" fill="#640A25"/>
<circle cx="120.1" cy="141.1" r="1.1" fill="#640A25"/>
<circle cx="107.8" cy="150.5" r="1.1" fill="#640A25"/>
<circle cx="118.3" cy="151.3" r="1.1" fill="#640A25"/>
<circle cx="132.0" cy="151.0" r="1.1" fill="#640A25"/>
<circle cx="157.6" cy="150.5" r="1.1" fill="#640A25"/>
<circle cx="105.4" cy="155.9" r="1.1" fill="#640A25"/>
<circle cx="117.0" cy="155.9" r="1.1" fill="#640A25"/>
<circle cx="121.4" cy="154.4" r="1.1" fill="#640A25"/>
<circle cx="125.5" cy="159.2" r="1.1" fill="#640A25"/>
<circle cx="102.8" cy="165.0" r="1.1" fill="#640A25"/>
<circle cx="113.2" cy="166.3" r="1.1" fill="#640A25"/>
<circle cx="112.4" cy="168.1" r="1.1" fill="#640A25"/>
<circle cx="103.9" cy="170.3" r="1.1" fill="#640A25"/>
<circle cx="108.0" cy="171.6" r="1.1" fill="#640A25"/>
<circle cx="114.2" cy="170.5" r="1.1" fill="#640A25"/>
<circle cx="130.5" cy="170.4" r="1.1" fill="#640A25"/>
<circle cx="137.0" cy="174.3" r="1.1" fill="#640A25"/>
<circle cx="109.3" cy="177.0" r="1.1" fill="#640A25"/>
<circle cx="112.2" cy="175.7" r="1.1" fill="#640A25"/>
<circle cx="121.6" cy="177.1" r="1.1" fill="#640A25"/>
<circle cx="130.0" cy="177.1" r="1.1" fill="#640A25"/>
<circle cx="127.0" cy="179.0" r="1.1" fill="#640A25"/>
<circle cx="113.9" cy="178.9" r="1.1" fill="#640A25"/>
<circle cx="112.9" cy="184.0" r="1.1" fill="#640A25"/>
<circle cx="136.1" cy="183.9" r="1.1" fill="#640A25"/>
<circle cx="115.2" cy="187.5" r="1.1" fill="#640A25"/>
<circle cx="121.4" cy="189.1" r="1.1" fill="#640A25"/>
<circle cx="120.6" cy="190.8" r="1.1" fill="#640A25"/>
<circle cx="124.0" cy="191.0" r="1.1" fill="#640A25"/>
<circle cx="129.2" cy="191.6" r="1.1" fill="#640A25"/>
<line x1="29.4" y1="190.6" x2="166.7" y2="190.6" stroke="#7E0020" stroke-width="1.0" stroke-dasharray="1.2 0.75"/>
<text font-size="5.0" text-anchor="start" fill="#8DB46E" font-style="italic" textLength="12.5" lengthAdjust="spacingAndGlyphs" x="47.70" y="45.20" >KLF9</text>
<text font-size="5.4" text-anchor="start" fill="#8DB46E" font-style="italic" textLength="18.3" lengthAdjust="spacingAndGlyphs" x="74.70" y="126.00" >CNNM1</text>
<text font-size="5.4" text-anchor="start" fill="#8DB46E" textLength="57.4" lengthAdjust="spacingAndGlyphs" x="31.20" y="134.10" >ENSSSCG00000004571</text>
<text font-size="5.4" text-anchor="start" fill="#8DB46E" font-style="italic" textLength="17.0" lengthAdjust="spacingAndGlyphs" x="67.90" y="152.60" >ANXA8</text>
<text font-size="5.4" text-anchor="start" fill="#8DB46E" font-style="italic" textLength="14.1" lengthAdjust="spacingAndGlyphs" x="58.00" y="163.20" >RPTN</text>
<text font-size="4.4" text-anchor="start" fill="#8E1F48" textLength="47.1" lengthAdjust="spacingAndGlyphs" x="107.00" y="118.00" >ENSSSCG00000001100</text>
<text font-size="5.6" text-anchor="start" fill="#8E1F48" font-style="italic" textLength="18.5" lengthAdjust="spacingAndGlyphs" x="95.40" y="134.40" >POSTN</text>
<text font-size="5.2" text-anchor="start" fill="#8E1F48" font-style="italic" textLength="10.3" lengthAdjust="spacingAndGlyphs" x="114.40" y="137.60" >CA3</text>
<text font-size="5.2" text-anchor="start" fill="#8E1F48" font-style="italic" textLength="15.5" lengthAdjust="spacingAndGlyphs" x="90.20" y="148.80" >MMP2</text>
<text font-size="5.4" text-anchor="start" fill="#8E1F48" textLength="57.9" lengthAdjust="spacingAndGlyphs" x="107.80" y="146.40" >ENSSSCG00000023333</text>
<text font-size="5.2" text-anchor="start" fill="#8E1F48" textLength="24.0" lengthAdjust="spacingAndGlyphs" x="142.00" y="186.60" >FDR=0.05</text>
<circle cx="103.5" cy="36.9" r="0.95" fill="#56733F"/>
<text font-size="7.5" text-anchor="start" fill="#231F20" class="k" x="107.60" y="39.55" >down-regulation</text>
<circle cx="103.5" cy="45.5" r="0.95" fill="#1E2B5E"/>
<text font-size="7.5" text-anchor="start" fill="#231F20" class="k" x="107.60" y="48.15" >not significant</text>
<circle cx="103.5" cy="54.2" r="0.95" fill="#5E0F26"/>
<text font-size="7.5" text-anchor="start" fill="#231F20" class="k" x="107.60" y="56.85" >up-regulation</text>
<line x1="212.30" y1="29.20" x2="215.50" y2="29.20" stroke="#111111" stroke-width="1.3" />
<text font-size="8.2" text-anchor="end" fill="#231F20" class="k" x="210.30" y="32.11" >1.5</text>
<line x1="212.30" y1="54.70" x2="215.50" y2="54.70" stroke="#111111" stroke-width="1.3" />
<text font-size="8.2" text-anchor="end" fill="#231F20" class="k" x="210.30" y="57.61" >1.0</text>
<line x1="212.30" y1="80.40" x2="215.50" y2="80.40" stroke="#111111" stroke-width="1.3" />
<text font-size="8.2" text-anchor="end" fill="#231F20" class="k" x="210.30" y="83.31" >0.5</text>
<line x1="212.30" y1="106.10" x2="215.50" y2="106.10" stroke="#111111" stroke-width="1.3" />
<text font-size="8.2" text-anchor="end" fill="#231F20" class="k" x="210.30" y="109.01" >0.0</text>
<text transform="translate(192.20,66.00) rotate(-90)" class="k" font-size="9.8" text-anchor="middle" fill="#231F20" textLength="72.5" lengthAdjust="spacingAndGlyphs">Relative expression</text>
<text font-size="7.2" text-anchor="middle" fill="#231F20" class="k" font-style="italic" x="248.40" y="29.20" >KLF9</text>
<line x1="225.50" y1="45.00" x2="225.50" y2="52.40" stroke="#111111" stroke-width="1.2" />
<line x1="223.60" y1="45.00" x2="227.40" y2="45.00" stroke="#111111" stroke-width="1.2" />
<rect x="221.00" y="51.90" width="9.00" height="54.20" fill="#AD0630"/>
<line x1="237.70" y1="98.70" x2="237.70" y2="99.50" stroke="#111111" stroke-width="1.2" />
<line x1="235.80" y1="98.70" x2="239.60" y2="98.70" stroke="#111111" stroke-width="1.2" />
<rect x="233.20" y="99.00" width="9.00" height="7.10" fill="#2A4985"/>
<line x1="257.70" y1="46.60" x2="257.70" y2="53.40" stroke="#111111" stroke-width="1.2" />
<line x1="255.80" y1="46.60" x2="259.60" y2="46.60" stroke="#111111" stroke-width="1.2" />
<rect x="253.20" y="52.90" width="9.00" height="53.20" fill="#AD0630"/>
<line x1="269.75" y1="101.90" x2="269.75" y2="102.60" stroke="#111111" stroke-width="1.2" />
<line x1="267.85" y1="101.90" x2="271.65" y2="101.90" stroke="#111111" stroke-width="1.2" />
<rect x="265.30" y="102.10" width="8.90" height="4.00" fill="#2A4985"/>
<text font-size="8.1" text-anchor="middle" fill="#231F20" class="k" x="231.80" y="115.70" >Thymus</text>
<text font-size="8.1" text-anchor="middle" fill="#231F20" class="k" x="263.40" y="115.70" >Spleen</text>
<polyline points="225.50,44.40 225.50,42.40 235.50,42.40 235.50,44.40" fill="none" stroke="#111111" stroke-width="1.2"/>
<text x="228.30" y="41.88" font-size="6.0" text-anchor="middle" fill="#1a1718" stroke="#1a1718" style="stroke-width:0.45px">*</text>
<text x="232.10" y="41.88" font-size="6.0" text-anchor="middle" fill="#1a1718" stroke="#1a1718" style="stroke-width:0.45px">*</text>
<polyline points="258.00,44.40 258.00,42.40 267.50,42.40 267.50,44.40" fill="none" stroke="#111111" stroke-width="1.2"/>
<text x="260.80" y="41.88" font-size="6.0" text-anchor="middle" fill="#1a1718" stroke="#1a1718" style="stroke-width:0.45px">*</text>
<text x="264.60" y="41.88" font-size="6.0" text-anchor="middle" fill="#1a1718" stroke="#1a1718" style="stroke-width:0.45px">*</text>
<line x1="311.70" y1="33.30" x2="314.90" y2="33.30" stroke="#111111" stroke-width="1.3" />
<text font-size="8.2" text-anchor="end" fill="#231F20" class="k" x="309.70" y="36.21" >2.0</text>
<line x1="311.70" y1="51.50" x2="314.90" y2="51.50" stroke="#111111" stroke-width="1.3" />
<text font-size="8.2" text-anchor="end" fill="#231F20" class="k" x="309.70" y="54.41" >1.5</text>
<line x1="311.70" y1="69.70" x2="314.90" y2="69.70" stroke="#111111" stroke-width="1.3" />
<text font-size="8.2" text-anchor="end" fill="#231F20" class="k" x="309.70" y="72.61" >1.0</text>
<line x1="311.70" y1="87.90" x2="314.90" y2="87.90" stroke="#111111" stroke-width="1.3" />
<text font-size="8.2" text-anchor="end" fill="#231F20" class="k" x="309.70" y="90.81" >0.5</text>
<line x1="311.70" y1="106.10" x2="314.90" y2="106.10" stroke="#111111" stroke-width="1.3" />
<text font-size="8.2" text-anchor="end" fill="#231F20" class="k" x="309.70" y="109.01" >0.0</text>
<text transform="translate(291.80,68.60) rotate(-90)" class="k" font-size="9.8" text-anchor="middle" fill="#231F20" textLength="72.5" lengthAdjust="spacingAndGlyphs">Relative expression</text>
<text font-size="7.2" text-anchor="middle" fill="#231F20" class="k" font-style="italic" x="347.50" y="29.20" >THRA</text>
<line x1="324.40" y1="65.50" x2="324.40" y2="69.50" stroke="#111111" stroke-width="1.2" />
<line x1="322.50" y1="65.50" x2="326.30" y2="65.50" stroke="#111111" stroke-width="1.2" />
<rect x="319.90" y="69.00" width="9.00" height="37.10" fill="#AD0630"/>
<line x1="336.75" y1="54.10" x2="336.75" y2="63.10" stroke="#111111" stroke-width="1.2" />
<line x1="334.85" y1="54.10" x2="338.65" y2="54.10" stroke="#111111" stroke-width="1.2" />
<rect x="332.30" y="62.60" width="8.90" height="43.50" fill="#2A4985"/>
<line x1="356.60" y1="64.70" x2="356.60" y2="68.90" stroke="#111111" stroke-width="1.2" />
<line x1="354.70" y1="64.70" x2="358.50" y2="64.70" stroke="#111111" stroke-width="1.2" />
<rect x="352.10" y="68.40" width="9.00" height="37.70" fill="#AD0630"/>
<line x1="368.60" y1="71.80" x2="368.60" y2="76.20" stroke="#111111" stroke-width="1.2" />
<line x1="366.70" y1="71.80" x2="370.50" y2="71.80" stroke="#111111" stroke-width="1.2" />
<rect x="364.10" y="75.70" width="9.00" height="30.40" fill="#2A4985"/>
<text font-size="8.1" text-anchor="middle" fill="#231F20" class="k" x="330.80" y="115.70" >Thymus</text>
<text font-size="8.1" text-anchor="middle" fill="#231F20" class="k" x="362.80" y="115.70" >Spleen</text>
<line x1="410.30" y1="29.00" x2="413.50" y2="29.00" stroke="#111111" stroke-width="1.3" />
<text font-size="8.2" text-anchor="end" fill="#231F20" class="k" x="408.30" y="31.91" >1.5</text>
<line x1="410.30" y1="54.70" x2="413.50" y2="54.70" stroke="#111111" stroke-width="1.3" />
<text font-size="8.2" text-anchor="end" fill="#231F20" class="k" x="408.30" y="57.61" >1.0</text>
<line x1="410.30" y1="80.40" x2="413.50" y2="80.40" stroke="#111111" stroke-width="1.3" />
<text font-size="8.2" text-anchor="end" fill="#231F20" class="k" x="408.30" y="83.31" >0.5</text>
<line x1="410.30" y1="106.10" x2="413.50" y2="106.10" stroke="#111111" stroke-width="1.3" />
<text font-size="8.2" text-anchor="end" fill="#231F20" class="k" x="408.30" y="109.01" >0.0</text>
<text transform="translate(390.40,66.00) rotate(-90)" class="k" font-size="9.8" text-anchor="middle" fill="#231F20" textLength="72.5" lengthAdjust="spacingAndGlyphs">Relative expression</text>
<text font-size="7.2" text-anchor="middle" fill="#231F20" class="k" font-style="italic" x="446.80" y="29.20" >THRB</text>
<line x1="423.70" y1="50.30" x2="423.70" y2="54.00" stroke="#111111" stroke-width="1.2" />
<line x1="421.80" y1="50.30" x2="425.60" y2="50.30" stroke="#111111" stroke-width="1.2" />
<rect x="419.20" y="53.50" width="9.00" height="52.60" fill="#AD0630"/>
<line x1="435.70" y1="80.50" x2="435.70" y2="86.80" stroke="#111111" stroke-width="1.2" />
<line x1="433.80" y1="80.50" x2="437.60" y2="80.50" stroke="#111111" stroke-width="1.2" />
<rect x="431.20" y="86.30" width="9.00" height="19.80" fill="#2A4985"/>
<line x1="455.35" y1="41.00" x2="455.35" y2="47.70" stroke="#111111" stroke-width="1.2" />
<line x1="453.45" y1="41.00" x2="457.25" y2="41.00" stroke="#111111" stroke-width="1.2" />
<rect x="450.80" y="47.20" width="9.10" height="58.90" fill="#AD0630"/>
<line x1="467.50" y1="62.20" x2="467.50" y2="67.50" stroke="#111111" stroke-width="1.2" />
<line x1="465.60" y1="62.20" x2="469.40" y2="62.20" stroke="#111111" stroke-width="1.2" />
<rect x="463.00" y="67.00" width="9.00" height="39.10" fill="#2A4985"/>
<text font-size="8.1" text-anchor="middle" fill="#231F20" class="k" x="430.30" y="115.70" >Thymus</text>
<text font-size="8.1" text-anchor="middle" fill="#231F20" class="k" x="461.00" y="115.70" >Spleen</text>
<polyline points="423.50,48.90 423.50,46.50 433.50,46.50 433.50,48.90" fill="none" stroke="#111111" stroke-width="1.2"/>
<text x="426.20" y="45.98" font-size="6.0" text-anchor="middle" fill="#1a1718" stroke="#1a1718" style="stroke-width:0.45px">*</text>
<text x="430.00" y="45.98" font-size="6.0" text-anchor="middle" fill="#1a1718" stroke="#1a1718" style="stroke-width:0.45px">*</text>
<polyline points="454.70,40.20 454.70,37.50 464.80,37.50 464.80,40.20" fill="none" stroke="#111111" stroke-width="1.2"/>
<text x="457.90" y="36.98" font-size="6.0" text-anchor="middle" fill="#1a1718" stroke="#1a1718" style="stroke-width:0.45px">*</text>
<text x="461.70" y="36.98" font-size="6.0" text-anchor="middle" fill="#1a1718" stroke="#1a1718" style="stroke-width:0.45px">*</text>
<rect x="468.70" y="26.10" width="6.80" height="6.70" fill="#AD0630"/>
<text font-size="7.5" text-anchor="start" fill="#231F20" class="k" x="477.80" y="32.20" >WT</text>
<rect x="468.70" y="37.50" width="6.80" height="6.70" fill="#2A4985"/>
<text font-size="7.5" text-anchor="start" fill="#231F20" class="k" x="477.80" y="43.30" >D409G</text>
<line x1="196.70" y1="154.30" x2="199.90" y2="154.30" stroke="#111111" stroke-width="1.3" />
<text font-size="7.9" text-anchor="end" fill="#231F20" class="k" x="194.20" y="157.10" >5</text>
<line x1="196.70" y1="165.50" x2="199.90" y2="165.50" stroke="#111111" stroke-width="1.3" />
<text font-size="7.9" text-anchor="end" fill="#231F20" class="k" x="194.20" y="168.30" >4</text>
<line x1="196.70" y1="176.80" x2="199.90" y2="176.80" stroke="#111111" stroke-width="1.3" />
<text font-size="7.9" text-anchor="end" fill="#231F20" class="k" x="194.20" y="179.60" >3</text>
<line x1="196.70" y1="188.00" x2="199.90" y2="188.00" stroke="#111111" stroke-width="1.3" />
<text font-size="7.9" text-anchor="end" fill="#231F20" class="k" x="194.20" y="190.80" >2</text>
<line x1="196.70" y1="199.30" x2="199.90" y2="199.30" stroke="#111111" stroke-width="1.3" />
<text font-size="7.9" text-anchor="end" fill="#231F20" class="k" x="194.20" y="202.10" >1</text>
<line x1="196.70" y1="210.60" x2="199.90" y2="210.60" stroke="#111111" stroke-width="1.3" />
<text font-size="7.9" text-anchor="end" fill="#231F20" class="k" x="194.20" y="213.40" >0</text>
<text transform="translate(184.00,181.40) rotate(-90)" class="k" font-size="9.8" text-anchor="middle" fill="#231F20" textLength="72.5" lengthAdjust="spacingAndGlyphs">Relative expression</text>
<text font-size="7.2" text-anchor="middle" fill="#231F20" class="k" font-style="italic" x="242.50" y="147.00" >KLF9</text>
<line x1="206.70" y1="198.21" x2="206.70" y2="199.16" stroke="#111111" stroke-width="1.2" />
<line x1="204.80" y1="198.21" x2="208.60" y2="198.21" stroke="#111111" stroke-width="1.2" />
<rect x="202.40" y="198.66" width="8.60" height="11.94" fill="#2A4985"/>
<text transform="translate(211.10,216.90) rotate(-45)" class="k" font-size="8.0" text-anchor="end" fill="#231F20">Td</text>
<line x1="220.83" y1="186.73" x2="220.83" y2="187.90" stroke="#111111" stroke-width="1.2" />
<line x1="218.93" y1="186.73" x2="222.73" y2="186.73" stroke="#111111" stroke-width="1.2" />
<rect x="216.53" y="187.40" width="8.60" height="23.20" fill="#AD0630"/>
<text x="218.93" y="187.48" font-size="6.0" text-anchor="middle" fill="#1a1718" stroke="#1a1718" style="stroke-width:0.45px">*</text>
<text x="222.73" y="187.48" font-size="6.0" text-anchor="middle" fill="#1a1718" stroke="#1a1718" style="stroke-width:0.45px">*</text>
<text transform="translate(225.23,216.90) rotate(-45)" class="k" font-size="8.0" text-anchor="end" fill="#231F20">1 h</text>
<line x1="234.96" y1="184.93" x2="234.96" y2="185.99" stroke="#111111" stroke-width="1.2" />
<line x1="233.06" y1="184.93" x2="236.86" y2="184.93" stroke="#111111" stroke-width="1.2" />
<rect x="230.66" y="185.49" width="8.60" height="25.11" fill="#AD0630"/>
<text x="233.06" y="185.08" font-size="6.0" text-anchor="middle" fill="#1a1718" stroke="#1a1718" style="stroke-width:0.45px">*</text>
<text x="236.86" y="185.08" font-size="6.0" text-anchor="middle" fill="#1a1718" stroke="#1a1718" style="stroke-width:0.45px">*</text>
<text transform="translate(239.36,216.90) rotate(-45)" class="k" font-size="8.0" text-anchor="end" fill="#231F20">4 h</text>
<line x1="249.09" y1="178.85" x2="249.09" y2="181.82" stroke="#111111" stroke-width="1.2" />
<line x1="247.19" y1="178.85" x2="250.99" y2="178.85" stroke="#111111" stroke-width="1.2" />
<rect x="244.79" y="181.32" width="8.60" height="29.28" fill="#AD0630"/>
<text x="247.19" y="179.88" font-size="6.0" text-anchor="middle" fill="#1a1718" stroke="#1a1718" style="stroke-width:0.45px">*</text>
<text x="250.99" y="179.88" font-size="6.0" text-anchor="middle" fill="#1a1718" stroke="#1a1718" style="stroke-width:0.45px">*</text>
<text transform="translate(253.49,216.90) rotate(-45)" class="k" font-size="8.0" text-anchor="end" fill="#231F20">8 h</text>
<line x1="263.22" y1="168.83" x2="263.22" y2="171.01" stroke="#111111" stroke-width="1.2" />
<line x1="261.32" y1="168.83" x2="265.12" y2="168.83" stroke="#111111" stroke-width="1.2" />
<rect x="258.92" y="170.51" width="8.60" height="40.09" fill="#AD0630"/>
<text x="261.32" y="169.98" font-size="6.0" text-anchor="middle" fill="#1a1718" stroke="#1a1718" style="stroke-width:0.45px">*</text>
<text x="265.12" y="169.98" font-size="6.0" text-anchor="middle" fill="#1a1718" stroke="#1a1718" style="stroke-width:0.45px">*</text>
<text transform="translate(267.62,216.90) rotate(-45)" class="k" font-size="8.0" text-anchor="end" fill="#231F20">12 h</text>
<line x1="277.35" y1="163.65" x2="277.35" y2="165.27" stroke="#111111" stroke-width="1.2" />
<line x1="275.45" y1="163.65" x2="279.25" y2="163.65" stroke="#111111" stroke-width="1.2" />
<rect x="273.05" y="164.77" width="8.60" height="45.83" fill="#AD0630"/>
<text x="275.45" y="163.08" font-size="6.0" text-anchor="middle" fill="#1a1718" stroke="#1a1718" style="stroke-width:0.45px">*</text>
<text x="279.25" y="163.08" font-size="6.0" text-anchor="middle" fill="#1a1718" stroke="#1a1718" style="stroke-width:0.45px">*</text>
<text transform="translate(281.75,216.90) rotate(-45)" class="k" font-size="8.0" text-anchor="end" fill="#231F20">24 h</text>
<line x1="314.00" y1="154.10" x2="317.20" y2="154.10" stroke="#111111" stroke-width="1.3" />
<text font-size="7.9" text-anchor="end" fill="#231F20" class="k" x="311.50" y="156.90" >2.5</text>
<line x1="314.00" y1="165.40" x2="317.20" y2="165.40" stroke="#111111" stroke-width="1.3" />
<text font-size="7.9" text-anchor="end" fill="#231F20" class="k" x="311.50" y="168.20" >2.0</text>
<line x1="314.00" y1="176.70" x2="317.20" y2="176.70" stroke="#111111" stroke-width="1.3" />
<text font-size="7.9" text-anchor="end" fill="#231F20" class="k" x="311.50" y="179.50" >1.5</text>
<line x1="314.00" y1="188.00" x2="317.20" y2="188.00" stroke="#111111" stroke-width="1.3" />
<text font-size="7.9" text-anchor="end" fill="#231F20" class="k" x="311.50" y="190.80" >1.0</text>
<line x1="314.00" y1="199.30" x2="317.20" y2="199.30" stroke="#111111" stroke-width="1.3" />
<text font-size="7.9" text-anchor="end" fill="#231F20" class="k" x="311.50" y="202.10" >0.5</text>
<line x1="314.00" y1="210.60" x2="317.20" y2="210.60" stroke="#111111" stroke-width="1.3" />
<text font-size="7.9" text-anchor="end" fill="#231F20" class="k" x="311.50" y="213.40" >0.0</text>
<text transform="translate(294.20,181.40) rotate(-90)" class="k" font-size="9.8" text-anchor="middle" fill="#231F20" textLength="72.5" lengthAdjust="spacingAndGlyphs">Relative expression</text>
<text font-size="7.2" text-anchor="middle" fill="#231F20" class="k" font-style="italic" x="360.20" y="146.20" >THRA</text>
<line x1="324.00" y1="186.64" x2="324.00" y2="187.60" stroke="#111111" stroke-width="1.2" />
<line x1="322.10" y1="186.64" x2="325.90" y2="186.64" stroke="#111111" stroke-width="1.2" />
<rect x="319.70" y="187.10" width="8.60" height="23.50" fill="#2A4985"/>
<text transform="translate(328.40,216.90) rotate(-45)" class="k" font-size="8.0" text-anchor="end" fill="#231F20">Td</text>
<line x1="338.13" y1="181.90" x2="338.13" y2="183.30" stroke="#111111" stroke-width="1.2" />
<line x1="336.23" y1="181.90" x2="340.03" y2="181.90" stroke="#111111" stroke-width="1.2" />
<rect x="333.83" y="182.80" width="8.60" height="27.80" fill="#AD0630"/>
<text x="338.13" y="182.48" font-size="6.0" text-anchor="middle" fill="#1a1718" stroke="#1a1718" style="stroke-width:0.45px">*</text>
<text transform="translate(342.53,216.90) rotate(-45)" class="k" font-size="8.0" text-anchor="end" fill="#231F20">1 h</text>
<line x1="352.26" y1="178.73" x2="352.26" y2="180.82" stroke="#111111" stroke-width="1.2" />
<line x1="350.36" y1="178.73" x2="354.16" y2="178.73" stroke="#111111" stroke-width="1.2" />
<rect x="347.96" y="180.32" width="8.60" height="30.28" fill="#AD0630"/>
<text x="350.36" y="179.68" font-size="6.0" text-anchor="middle" fill="#1a1718" stroke="#1a1718" style="stroke-width:0.45px">*</text>
<text x="354.16" y="179.68" font-size="6.0" text-anchor="middle" fill="#1a1718" stroke="#1a1718" style="stroke-width:0.45px">*</text>
<text transform="translate(356.66,216.90) rotate(-45)" class="k" font-size="8.0" text-anchor="end" fill="#231F20">4 h</text>
<line x1="366.39" y1="173.99" x2="366.39" y2="175.62" stroke="#111111" stroke-width="1.2" />
<line x1="364.49" y1="173.99" x2="368.29" y2="173.99" stroke="#111111" stroke-width="1.2" />
<rect x="362.09" y="175.12" width="8.60" height="35.48" fill="#AD0630"/>
<text x="364.49" y="174.38" font-size="6.0" text-anchor="middle" fill="#1a1718" stroke="#1a1718" style="stroke-width:0.45px">*</text>
<text x="368.29" y="174.38" font-size="6.0" text-anchor="middle" fill="#1a1718" stroke="#1a1718" style="stroke-width:0.45px">*</text>
<text transform="translate(370.79,216.90) rotate(-45)" class="k" font-size="8.0" text-anchor="end" fill="#231F20">8 h</text>
<line x1="380.52" y1="170.60" x2="380.52" y2="174.26" stroke="#111111" stroke-width="1.2" />
<line x1="378.62" y1="170.60" x2="382.42" y2="170.60" stroke="#111111" stroke-width="1.2" />
<rect x="376.22" y="173.76" width="8.60" height="36.84" fill="#AD0630"/>
<text x="378.62" y="171.28" font-size="6.0" text-anchor="middle" fill="#1a1718" stroke="#1a1718" style="stroke-width:0.45px">*</text>
<text x="382.42" y="171.28" font-size="6.0" text-anchor="middle" fill="#1a1718" stroke="#1a1718" style="stroke-width:0.45px">*</text>
<text transform="translate(384.92,216.90) rotate(-45)" class="k" font-size="8.0" text-anchor="end" fill="#231F20">12 h</text>
<line x1="394.65" y1="165.17" x2="394.65" y2="167.26" stroke="#111111" stroke-width="1.2" />
<line x1="392.75" y1="165.17" x2="396.55" y2="165.17" stroke="#111111" stroke-width="1.2" />
<rect x="390.35" y="166.76" width="8.60" height="43.84" fill="#AD0630"/>
<text x="392.75" y="165.48" font-size="6.0" text-anchor="middle" fill="#1a1718" stroke="#1a1718" style="stroke-width:0.45px">*</text>
<text x="396.55" y="165.48" font-size="6.0" text-anchor="middle" fill="#1a1718" stroke="#1a1718" style="stroke-width:0.45px">*</text>
<text transform="translate(399.05,216.90) rotate(-45)" class="k" font-size="8.0" text-anchor="end" fill="#231F20">24 h</text>
<line x1="425.00" y1="154.10" x2="428.20" y2="154.10" stroke="#111111" stroke-width="1.3" />
<text font-size="7.9" text-anchor="end" fill="#231F20" class="k" x="421.80" y="156.90" >3</text>
<line x1="425.00" y1="172.90" x2="428.20" y2="172.90" stroke="#111111" stroke-width="1.3" />
<text font-size="7.9" text-anchor="end" fill="#231F20" class="k" x="421.80" y="175.70" >2</text>
<line x1="425.00" y1="191.80" x2="428.20" y2="191.80" stroke="#111111" stroke-width="1.3" />
<text font-size="7.9" text-anchor="end" fill="#231F20" class="k" x="421.80" y="194.60" >1</text>
<line x1="425.00" y1="210.60" x2="428.20" y2="210.60" stroke="#111111" stroke-width="1.3" />
<text font-size="7.9" text-anchor="end" fill="#231F20" class="k" x="421.80" y="213.40" >0</text>
<text transform="translate(412.50,181.40) rotate(-90)" class="k" font-size="9.8" text-anchor="middle" fill="#231F20" textLength="72.5" lengthAdjust="spacingAndGlyphs">Relative expression</text>
<text font-size="7.2" text-anchor="middle" fill="#231F20" class="k" font-style="italic" x="471.40" y="146.50" >THRB</text>
<line x1="435.30" y1="191.58" x2="435.30" y2="192.27" stroke="#111111" stroke-width="1.2" />
<line x1="433.40" y1="191.58" x2="437.20" y2="191.58" stroke="#111111" stroke-width="1.2" />
<rect x="431.00" y="191.77" width="8.60" height="18.83" fill="#2A4985"/>
<text transform="translate(439.70,216.90) rotate(-45)" class="k" font-size="8.0" text-anchor="end" fill="#231F20">Td</text>
<line x1="449.43" y1="185.56" x2="449.43" y2="186.62" stroke="#111111" stroke-width="1.2" />
<line x1="447.53" y1="185.56" x2="451.33" y2="185.56" stroke="#111111" stroke-width="1.2" />
<rect x="445.13" y="186.12" width="8.60" height="24.48" fill="#AD0630"/>
<text x="449.43" y="186.28" font-size="6.0" text-anchor="middle" fill="#1a1718" stroke="#1a1718" style="stroke-width:0.45px">*</text>
<text transform="translate(453.83,216.90) rotate(-45)" class="k" font-size="8.0" text-anchor="end" fill="#231F20">1 h</text>
<line x1="463.56" y1="178.59" x2="463.56" y2="179.84" stroke="#111111" stroke-width="1.2" />
<line x1="461.66" y1="178.59" x2="465.46" y2="178.59" stroke="#111111" stroke-width="1.2" />
<rect x="459.26" y="179.34" width="8.60" height="31.26" fill="#AD0630"/>
<text x="461.66" y="179.08" font-size="6.0" text-anchor="middle" fill="#1a1718" stroke="#1a1718" style="stroke-width:0.45px">*</text>
<text x="465.46" y="179.08" font-size="6.0" text-anchor="middle" fill="#1a1718" stroke="#1a1718" style="stroke-width:0.45px">*</text>
<text transform="translate(467.96,216.90) rotate(-45)" class="k" font-size="8.0" text-anchor="end" fill="#231F20">4 h</text>
<line x1="477.69" y1="168.61" x2="477.69" y2="171.18" stroke="#111111" stroke-width="1.2" />
<line x1="475.79" y1="168.61" x2="479.59" y2="168.61" stroke="#111111" stroke-width="1.2" />
<rect x="473.39" y="170.68" width="8.60" height="39.92" fill="#AD0630"/>
<text x="475.79" y="168.78" font-size="6.0" text-anchor="middle" fill="#1a1718" stroke="#1a1718" style="stroke-width:0.45px">*</text>
<text x="479.59" y="168.78" font-size="6.0" text-anchor="middle" fill="#1a1718" stroke="#1a1718" style="stroke-width:0.45px">*</text>
<text transform="translate(482.09,216.90) rotate(-45)" class="k" font-size="8.0" text-anchor="end" fill="#231F20">8 h</text>
<line x1="491.82" y1="167.29" x2="491.82" y2="169.11" stroke="#111111" stroke-width="1.2" />
<line x1="489.92" y1="167.29" x2="493.72" y2="167.29" stroke="#111111" stroke-width="1.2" />
<rect x="487.52" y="168.61" width="8.60" height="41.99" fill="#AD0630"/>
<text x="489.92" y="167.98" font-size="6.0" text-anchor="middle" fill="#1a1718" stroke="#1a1718" style="stroke-width:0.45px">*</text>
<text x="493.72" y="167.98" font-size="6.0" text-anchor="middle" fill="#1a1718" stroke="#1a1718" style="stroke-width:0.45px">*</text>
<text transform="translate(496.22,216.90) rotate(-45)" class="k" font-size="8.0" text-anchor="end" fill="#231F20">12 h</text>
<line x1="505.95" y1="160.32" x2="505.95" y2="162.14" stroke="#111111" stroke-width="1.2" />
<line x1="504.05" y1="160.32" x2="507.85" y2="160.32" stroke="#111111" stroke-width="1.2" />
<rect x="501.65" y="161.64" width="8.60" height="48.96" fill="#AD0630"/>
<text x="504.05" y="160.18" font-size="6.0" text-anchor="middle" fill="#1a1718" stroke="#1a1718" style="stroke-width:0.45px">*</text>
<text x="507.85" y="160.18" font-size="6.0" text-anchor="middle" fill="#1a1718" stroke="#1a1718" style="stroke-width:0.45px">*</text>
<text transform="translate(510.35,216.90) rotate(-45)" class="k" font-size="8.0" text-anchor="end" fill="#231F20">24 h</text>
<rect x="324.20" y="130.20" width="6.30" height="6.30" fill="#2A4985"/>
<text font-size="7.5" text-anchor="start" fill="#231F20" class="k" x="332.90" y="135.80" >Td</text>
<rect x="350.20" y="130.20" width="6.30" height="6.30" fill="#AD0630"/>
<text font-size="7.5" text-anchor="start" fill="#231F20" class="k" textLength="36.0" lengthAdjust="spacingAndGlyphs" x="358.90" y="135.80" >T3 100 nM</text>
<rect x="25.80" y="312.80" width="178.70" height="3.90" fill="#A3082E"/>
<text font-size="8.0" text-anchor="middle" fill="#231F20" class="k" x="47.20" y="295.80" >TRE1</text>
<line x1="48.20" y1="300.10" x2="48.20" y2="313.00" stroke="#111111" stroke-width="1.3" />
<line x1="25.80" y1="323.50" x2="81.60" y2="323.50" stroke="#1c1c1c" stroke-width="1.15" />
<path d="M84.90,323.50 L79.00,320.80 L80.20,323.50 L79.00,326.20 Z" fill="#141414"/>
<line x1="156.10" y1="323.50" x2="203.60" y2="323.50" stroke="#1c1c1c" stroke-width="1.15" />
<path d="M206.90,323.50 L201.00,320.80 L202.20,323.50 L201.00,326.20 Z" fill="#141414"/>
<text font-size="8.0" text-anchor="middle" fill="#231F20" class="k" x="50.60" y="335.70" >R1</text>
<text font-size="8.0" text-anchor="middle" fill="#231F20" class="k" x="180.80" y="335.60" >R2</text>
<text class="k" x="80.4" y="345.6" font-size="7.9" fill="#231F20" textLength="69.4" lengthAdjust="spacingAndGlyphs">Porcine <tspan font-style="italic">KLF9 -TRE</tspan></text>
<text font-size="8.0" text-anchor="middle" fill="#231F20" class="k" x="143.40" y="298.80" >2</text>
<text font-size="8.0" text-anchor="middle" fill="#231F20" class="k" x="156.50" y="298.80" >3</text>
<text font-size="8.0" text-anchor="middle" fill="#231F20" class="k" x="163.50" y="298.80" >4</text>
<text font-size="8.0" text-anchor="middle" fill="#231F20" class="k" x="170.90" y="298.50" >5</text>
<text font-size="8.0" text-anchor="middle" fill="#231F20" class="k" x="185.40" y="298.80" >6</text>
<text font-size="8.0" text-anchor="middle" fill="#231F20" class="k" x="195.80" y="298.80" >7</text>
<text font-size="8.0" text-anchor="middle" fill="#231F20" class="k" x="204.50" y="298.80" >m</text>
<polyline points="148.00,300.20 158.00,308.90 158.00,313.00" fill="none" stroke="#111111" stroke-width="1.25"/>
<polyline points="159.40,300.30 159.40,313.00" fill="none" stroke="#111111" stroke-width="1.25"/>
<polyline points="163.20,300.30 163.20,313.00" fill="none" stroke="#111111" stroke-width="1.25"/>
<polyline points="170.40,299.80 165.80,308.90 165.80,313.00" fill="none" stroke="#111111" stroke-width="1.25"/>
<polyline points="184.70,299.80 178.00,309.30 178.00,313.00" fill="none" stroke="#111111" stroke-width="1.25"/>
<polyline points="196.90,300.30 201.50,307.70 201.50,313.00" fill="none" stroke="#111111" stroke-width="1.25"/>
<polyline points="205.70,300.30 201.50,307.70" fill="none" stroke="#111111" stroke-width="1.25"/>
<line x1="262.30" y1="274.30" x2="265.50" y2="274.30" stroke="#111111" stroke-width="1.3" />
<text font-size="7.9" text-anchor="end" fill="#231F20" class="k" x="259.60" y="277.10" >15</text>
<line x1="262.30" y1="298.40" x2="265.50" y2="298.40" stroke="#111111" stroke-width="1.3" />
<text font-size="7.9" text-anchor="end" fill="#231F20" class="k" x="259.60" y="301.20" >10</text>
<line x1="262.30" y1="322.40" x2="265.50" y2="322.40" stroke="#111111" stroke-width="1.3" />
<text font-size="7.9" text-anchor="end" fill="#231F20" class="k" x="259.60" y="325.20" >5</text>
<line x1="262.30" y1="346.50" x2="265.50" y2="346.50" stroke="#111111" stroke-width="1.3" />
<text font-size="7.9" text-anchor="end" fill="#231F20" class="k" x="259.60" y="349.30" >0</text>
<text transform="translate(233.00,308.80) rotate(-90)" class="k" font-size="9.8" text-anchor="middle" fill="#231F20" textLength="78.0" lengthAdjust="spacingAndGlyphs">Ratio of firefly/renilla</text>
<text transform="translate(245.00,308.80) rotate(-90)" class="k" font-size="9.8" text-anchor="middle" fill="#231F20" textLength="65.0" lengthAdjust="spacingAndGlyphs">luciferase activity</text>
<rect x="271.90" y="345.10" width="7.70" height="1.40" fill="#AD0630"/>
<rect x="284.30" y="345.00" width="7.90" height="1.50" fill="#AD0630"/>
<rect x="303.60" y="330.90" width="7.80" height="15.60" fill="#2A4985"/>
<rect x="316.80" y="287.20" width="7.90" height="59.30" fill="#2A4985"/>
<text x="318.90" y="287.28" font-size="6.0" text-anchor="middle" fill="#1a1718" stroke="#1a1718" style="stroke-width:0.45px">*</text>
<text x="322.70" y="287.28" font-size="6.0" text-anchor="middle" fill="#1a1718" stroke="#1a1718" style="stroke-width:0.45px">*</text>
<rect x="271.90" y="274.50" width="6.30" height="6.30" fill="#AD0630"/>
<text font-size="7.5" text-anchor="start" fill="#231F20" class="k" x="281.20" y="280.40" >R1</text>
<rect x="271.90" y="285.40" width="6.30" height="6.30" fill="#2A4985"/>
<text font-size="7.5" text-anchor="start" fill="#231F20" class="k" x="281.20" y="291.30" >R2</text>
<text transform="translate(279.20,352.90) rotate(-45)" class="k" font-size="7.7" text-anchor="end" fill="#231F20">pCDNA3.1</text>
<text transform="translate(292.00,352.90) rotate(-45)" class="k" font-size="7.7" text-anchor="end" fill="#231F20">THRA</text>
<text transform="translate(311.00,352.90) rotate(-45)" class="k" font-size="7.7" text-anchor="end" fill="#231F20">pCDNA3.1</text>
<text transform="translate(324.40,352.90) rotate(-45)" class="k" font-size="7.7" text-anchor="end" fill="#231F20">THRA</text>
<line x1="372.80" y1="272.70" x2="376.00" y2="272.70" stroke="#111111" stroke-width="1.3" />
<text font-size="7.9" text-anchor="end" fill="#231F20" class="k" x="370.80" y="275.50" >8</text>
<line x1="372.80" y1="291.20" x2="376.00" y2="291.20" stroke="#111111" stroke-width="1.3" />
<text font-size="7.9" text-anchor="end" fill="#231F20" class="k" x="370.80" y="294.00" >6</text>
<line x1="372.80" y1="309.60" x2="376.00" y2="309.60" stroke="#111111" stroke-width="1.3" />
<text font-size="7.9" text-anchor="end" fill="#231F20" class="k" x="370.80" y="312.40" >4</text>
<line x1="372.80" y1="328.10" x2="376.00" y2="328.10" stroke="#111111" stroke-width="1.3" />
<text font-size="7.9" text-anchor="end" fill="#231F20" class="k" x="370.80" y="330.90" >2</text>
<line x1="372.80" y1="346.50" x2="376.00" y2="346.50" stroke="#111111" stroke-width="1.3" />
<text font-size="7.9" text-anchor="end" fill="#231F20" class="k" x="370.80" y="349.30" >0</text>
<text transform="translate(347.70,308.20) rotate(-90)" class="k" font-size="9.8" text-anchor="middle" fill="#231F20" textLength="78.0" lengthAdjust="spacingAndGlyphs">Ratio of firefly/renilla</text>
<text transform="translate(359.70,308.20) rotate(-90)" class="k" font-size="9.8" text-anchor="middle" fill="#231F20" textLength="65.0" lengthAdjust="spacingAndGlyphs">luciferase activity</text>
<rect x="381.90" y="345.30" width="7.70" height="1.20" fill="#AD0630"/>
<rect x="395.10" y="344.80" width="7.70" height="1.70" fill="#AD0630"/>
<rect x="415.00" y="316.50" width="8.00" height="30.00" fill="#2A4985"/>
<rect x="428.20" y="281.90" width="8.00" height="64.60" fill="#2A4985"/>
<text x="430.30" y="282.28" font-size="6.0" text-anchor="middle" fill="#1a1718" stroke="#1a1718" style="stroke-width:0.45px">*</text>
<text x="434.10" y="282.28" font-size="6.0" text-anchor="middle" fill="#1a1718" stroke="#1a1718" style="stroke-width:0.45px">*</text>
<rect x="382.40" y="274.50" width="6.30" height="6.30" fill="#AD0630"/>
<text font-size="7.5" text-anchor="start" fill="#231F20" class="k" x="391.60" y="280.40" >R1</text>
<rect x="382.40" y="285.40" width="6.30" height="6.30" fill="#2A4985"/>
<text font-size="7.5" text-anchor="start" fill="#231F20" class="k" x="391.60" y="291.30" >R2</text>
<text transform="translate(389.20,352.90) rotate(-45)" class="k" font-size="7.7" text-anchor="end" fill="#231F20">pCDNA3.1</text>
<text transform="translate(402.60,352.90) rotate(-45)" class="k" font-size="7.7" text-anchor="end" fill="#231F20">THRB</text>
<text transform="translate(422.80,352.90) rotate(-45)" class="k" font-size="7.7" text-anchor="end" fill="#231F20">pCDNA3.1</text>
<text transform="translate(436.00,352.90) rotate(-45)" class="k" font-size="7.7" text-anchor="end" fill="#231F20">THRB</text>
<line x1="61.70" y1="412.30" x2="64.90" y2="412.30" stroke="#111111" stroke-width="1.3" />
<text font-size="7.9" text-anchor="end" fill="#231F20" class="k" x="59.70" y="415.10" >10</text>
<line x1="61.70" y1="428.00" x2="64.90" y2="428.00" stroke="#111111" stroke-width="1.3" />
<text font-size="7.9" text-anchor="end" fill="#231F20" class="k" x="59.70" y="430.80" >8</text>
<line x1="61.70" y1="443.70" x2="64.90" y2="443.70" stroke="#111111" stroke-width="1.3" />
<text font-size="7.9" text-anchor="end" fill="#231F20" class="k" x="59.70" y="446.50" >6</text>
<line x1="61.70" y1="459.40" x2="64.90" y2="459.40" stroke="#111111" stroke-width="1.3" />
<text font-size="7.9" text-anchor="end" fill="#231F20" class="k" x="59.70" y="462.20" >4</text>
<line x1="61.70" y1="475.10" x2="64.90" y2="475.10" stroke="#111111" stroke-width="1.3" />
<text font-size="7.9" text-anchor="end" fill="#231F20" class="k" x="59.70" y="477.90" >2</text>
<line x1="61.70" y1="490.80" x2="64.90" y2="490.80" stroke="#111111" stroke-width="1.3" />
<text font-size="7.9" text-anchor="end" fill="#231F20" class="k" x="59.70" y="493.60" >0</text>
<text transform="translate(31.90,449.80) rotate(-90)" class="k" font-size="9.8" text-anchor="middle" fill="#231F20" textLength="78.0" lengthAdjust="spacingAndGlyphs">Ratio of firefly/renilla</text>
<text transform="translate(44.20,449.80) rotate(-90)" class="k" font-size="9.8" text-anchor="middle" fill="#231F20" textLength="65.0" lengthAdjust="spacingAndGlyphs">luciferase activity</text>
<line x1="72.35" y1="428.00" x2="72.35" y2="430.86" stroke="#111111" stroke-width="1.2" />
<line x1="70.45" y1="428.00" x2="74.25" y2="428.00" stroke="#111111" stroke-width="1.2" />
<rect x="68.10" y="430.36" width="8.50" height="60.44" fill="#AD0630"/>
<text transform="translate(76.40,497.40) rotate(-45)" class="k" font-size="7.7" text-anchor="end" fill="#231F20">pCDNA3.1</text>
<line x1="87.35" y1="429.57" x2="87.35" y2="432.43" stroke="#111111" stroke-width="1.2" />
<line x1="85.45" y1="429.57" x2="89.25" y2="429.57" stroke="#111111" stroke-width="1.2" />
<rect x="83.10" y="431.93" width="8.50" height="58.88" fill="#2A4985"/>
<text transform="translate(91.40,497.40) rotate(-45)" class="k" font-size="7.7" text-anchor="end" fill="#231F20">mTRE2</text>
<line x1="102.35" y1="430.51" x2="102.35" y2="431.40" stroke="#111111" stroke-width="1.2" />
<line x1="100.45" y1="430.51" x2="104.25" y2="430.51" stroke="#111111" stroke-width="1.2" />
<rect x="98.10" y="430.90" width="8.50" height="59.90" fill="#2A4985"/>
<text transform="translate(106.40,497.40) rotate(-45)" class="k" font-size="7.7" text-anchor="end" fill="#231F20">mTRE3</text>
<line x1="117.35" y1="431.14" x2="117.35" y2="434.00" stroke="#111111" stroke-width="1.2" />
<line x1="115.45" y1="431.14" x2="119.25" y2="431.14" stroke="#111111" stroke-width="1.2" />
<rect x="113.10" y="433.50" width="8.50" height="57.31" fill="#2A4985"/>
<text transform="translate(121.40,497.40) rotate(-45)" class="k" font-size="7.7" text-anchor="end" fill="#231F20">mTRE4</text>
<line x1="132.35" y1="430.36" x2="132.35" y2="431.48" stroke="#111111" stroke-width="1.2" />
<line x1="130.45" y1="430.36" x2="134.25" y2="430.36" stroke="#111111" stroke-width="1.2" />
<rect x="128.10" y="430.98" width="8.50" height="59.82" fill="#2A4985"/>
<text transform="translate(136.40,497.40) rotate(-45)" class="k" font-size="7.7" text-anchor="end" fill="#231F20">mTRE5</text>
<line x1="147.35" y1="429.57" x2="147.35" y2="430.86" stroke="#111111" stroke-width="1.2" />
<line x1="145.45" y1="429.57" x2="149.25" y2="429.57" stroke="#111111" stroke-width="1.2" />
<rect x="143.10" y="430.36" width="8.50" height="60.44" fill="#2A4985"/>
<text transform="translate(151.40,497.40) rotate(-45)" class="k" font-size="7.7" text-anchor="end" fill="#231F20">mTRE6</text>
<line x1="162.35" y1="467.64" x2="162.35" y2="468.93" stroke="#111111" stroke-width="1.2" />
<line x1="160.45" y1="467.64" x2="164.25" y2="467.64" stroke="#111111" stroke-width="1.2" />
<rect x="158.10" y="468.43" width="8.50" height="22.37" fill="#2A4985"/>
<text transform="translate(166.40,497.40) rotate(-45)" class="k" font-size="7.7" text-anchor="end" fill="#231F20">mTRE7</text>
<text x="160.50" y="467.68" font-size="6.0" text-anchor="middle" fill="#1a1718" stroke="#1a1718" style="stroke-width:0.45px">*</text>
<text x="164.30" y="467.68" font-size="6.0" text-anchor="middle" fill="#1a1718" stroke="#1a1718" style="stroke-width:0.45px">*</text>
<line x1="226.30" y1="401.90" x2="229.50" y2="401.90" stroke="#111111" stroke-width="1.3" />
<text font-size="7.9" text-anchor="end" fill="#231F20" class="k" x="223.40" y="404.70" >15</text>
<line x1="226.30" y1="431.50" x2="229.50" y2="431.50" stroke="#111111" stroke-width="1.3" />
<text font-size="7.9" text-anchor="end" fill="#231F20" class="k" x="223.40" y="434.30" >10</text>
<line x1="226.30" y1="461.20" x2="229.50" y2="461.20" stroke="#111111" stroke-width="1.3" />
<text font-size="7.9" text-anchor="end" fill="#231F20" class="k" x="223.40" y="464.00" >5</text>
<line x1="226.30" y1="490.80" x2="229.50" y2="490.80" stroke="#111111" stroke-width="1.3" />
<text font-size="7.9" text-anchor="end" fill="#231F20" class="k" x="223.40" y="493.60" >0</text>
<text transform="translate(198.00,445.20) rotate(-90)" class="k" font-size="9.8" text-anchor="middle" fill="#231F20" textLength="78.0" lengthAdjust="spacingAndGlyphs">Ratio of firefly/renilla</text>
<text transform="translate(210.00,445.20) rotate(-90)" class="k" font-size="9.8" text-anchor="middle" fill="#231F20" textLength="65.0" lengthAdjust="spacingAndGlyphs">luciferase activity</text>
<path d="M233.60,490.80 V472.90 Q233.60,471.30 236.20,471.20 H241.10 Q243.70,471.30 243.70,472.90 V490.80 Z" fill="#AD0630"/>
<line x1="257.60" y1="416.40" x2="257.60" y2="418.60" stroke="#111111" stroke-width="1.2" />
<line x1="255.70" y1="416.40" x2="259.50" y2="416.40" stroke="#111111" stroke-width="1.2" />
<rect x="252.40" y="418.10" width="10.40" height="72.70" fill="#6DAA3E"/>
<path d="M271.20,490.80 V457.90 Q271.20,456.30 273.80,456.20 H278.80 Q281.40,456.30 281.40,457.90 V490.80 Z" fill="#2A4985"/>
<polyline points="240.00,407.80 240.00,405.40 276.20,405.40 276.20,407.80" fill="none" stroke="#111111" stroke-width="1.2"/>
<text x="256.45" y="405.68" font-size="6.0" text-anchor="middle" fill="#1a1718" stroke="#1a1718" style="stroke-width:0.45px">*</text>
<text x="259.95" y="405.68" font-size="6.0" text-anchor="middle" fill="#1a1718" stroke="#1a1718" style="stroke-width:0.45px">*</text>
<polyline points="240.00,416.80 240.00,414.50 257.10,414.50 257.10,416.80" fill="none" stroke="#111111" stroke-width="1.2"/>
<text x="246.30" y="414.78" font-size="6.0" text-anchor="middle" fill="#1a1718" stroke="#1a1718" style="stroke-width:0.45px">*</text>
<text x="249.70" y="414.78" font-size="6.0" text-anchor="middle" fill="#1a1718" stroke="#1a1718" style="stroke-width:0.45px">*</text>
<polyline points="258.50,416.80 258.50,414.50 275.60,414.50 275.60,416.80" fill="none" stroke="#111111" stroke-width="1.2"/>
<text x="265.20" y="414.78" font-size="6.0" text-anchor="middle" fill="#1a1718" stroke="#1a1718" style="stroke-width:0.45px">*</text>
<text x="268.60" y="414.78" font-size="6.0" text-anchor="middle" fill="#1a1718" stroke="#1a1718" style="stroke-width:0.45px">*</text>
<text transform="translate(243.30,497.00) rotate(-45)" class="k" font-size="8.1" text-anchor="end" fill="#231F20">TRE7+pCDNA3.1</text>
<text transform="translate(262.10,497.00) rotate(-45)" class="k" font-size="8.1" text-anchor="end" fill="#231F20">TRE7+THRA</text>
<text transform="translate(281.10,497.00) rotate(-45)" class="k" font-size="8.1" text-anchor="end" fill="#231F20">mTRE7+THRA</text>
<line x1="327.60" y1="402.40" x2="330.80" y2="402.40" stroke="#111111" stroke-width="1.3" />
<text font-size="7.9" text-anchor="end" fill="#231F20" class="k" x="324.60" y="405.20" >8</text>
<line x1="327.60" y1="424.50" x2="330.80" y2="424.50" stroke="#111111" stroke-width="1.3" />
<text font-size="7.9" text-anchor="end" fill="#231F20" class="k" x="324.60" y="427.30" >6</text>
<line x1="327.60" y1="446.60" x2="330.80" y2="446.60" stroke="#111111" stroke-width="1.3" />
<text font-size="7.9" text-anchor="end" fill="#231F20" class="k" x="324.60" y="449.40" >4</text>
<line x1="327.60" y1="468.70" x2="330.80" y2="468.70" stroke="#111111" stroke-width="1.3" />
<text font-size="7.9" text-anchor="end" fill="#231F20" class="k" x="324.60" y="471.50" >2</text>
<line x1="327.60" y1="490.80" x2="330.80" y2="490.80" stroke="#111111" stroke-width="1.3" />
<text font-size="7.9" text-anchor="end" fill="#231F20" class="k" x="324.60" y="493.60" >0</text>
<text transform="translate(302.40,445.20) rotate(-90)" class="k" font-size="9.8" text-anchor="middle" fill="#231F20" textLength="78.0" lengthAdjust="spacingAndGlyphs">Ratio of firefly/renilla</text>
<text transform="translate(314.60,445.20) rotate(-90)" class="k" font-size="9.8" text-anchor="middle" fill="#231F20" textLength="65.0" lengthAdjust="spacingAndGlyphs">luciferase activity</text>
<path d="M334.90,490.80 V456.80 Q334.90,455.20 337.50,455.10 H342.70 Q345.30,455.20 345.30,456.80 V490.80 Z" fill="#AD0630"/>
<line x1="359.05" y1="424.30" x2="359.05" y2="426.70" stroke="#111111" stroke-width="1.2" />
<line x1="357.15" y1="424.30" x2="360.95" y2="424.30" stroke="#111111" stroke-width="1.2" />
<rect x="353.90" y="426.20" width="10.30" height="64.60" fill="#6DAA3E"/>
<path d="M372.30,490.80 V450.10 Q372.30,448.50 374.90,448.40 H380.10 Q382.70,448.50 382.70,450.10 V490.80 Z" fill="#2A4985"/>
<polyline points="341.80,415.00 341.80,412.70 378.60,412.70 378.60,415.00" fill="none" stroke="#111111" stroke-width="1.2"/>
<text x="358.20" y="412.38" font-size="6.0" text-anchor="middle" fill="#1a1718" stroke="#1a1718" style="stroke-width:0.45px">*</text>
<text x="361.60" y="412.38" font-size="6.0" text-anchor="middle" fill="#1a1718" stroke="#1a1718" style="stroke-width:0.45px">*</text>
<polyline points="341.80,423.60 341.80,421.40 359.00,421.40 359.00,423.60" fill="none" stroke="#111111" stroke-width="1.2"/>
<text x="348.10" y="422.08" font-size="6.0" text-anchor="middle" fill="#1a1718" stroke="#1a1718" style="stroke-width:0.45px">*</text>
<text x="351.50" y="422.08" font-size="6.0" text-anchor="middle" fill="#1a1718" stroke="#1a1718" style="stroke-width:0.45px">*</text>
<polyline points="360.20,423.60 360.20,421.40 378.60,421.40 378.60,423.60" fill="none" stroke="#111111" stroke-width="1.2"/>
<text x="367.00" y="422.08" font-size="6.0" text-anchor="middle" fill="#1a1718" stroke="#1a1718" style="stroke-width:0.45px">*</text>
<text x="370.40" y="422.08" font-size="6.0" text-anchor="middle" fill="#1a1718" stroke="#1a1718" style="stroke-width:0.45px">*</text>
<text transform="translate(344.70,497.00) rotate(-45)" class="k" font-size="8.1" text-anchor="end" fill="#231F20">TRE7+pCDNA3.1</text>
<text transform="translate(363.70,497.00) rotate(-45)" class="k" font-size="8.1" text-anchor="end" fill="#231F20">TRE7+THRB</text>
<text transform="translate(382.30,497.00) rotate(-45)" class="k" font-size="8.1" text-anchor="end" fill="#231F20">mTRE7+THRB</text>
<path d="M215.50,26.50 V106.90" fill="none" stroke="#111111" stroke-width="1.4"/>
<path d="M214.80,106.20 H280.20" fill="none" stroke="#111111" stroke-width="1.6"/>
<path d="M314.90,30.80 V106.90" fill="none" stroke="#111111" stroke-width="1.4"/>
<path d="M314.20,106.20 H379.50" fill="none" stroke="#111111" stroke-width="1.6"/>
<path d="M413.50,26.50 V106.90" fill="none" stroke="#111111" stroke-width="1.4"/>
<path d="M412.80,106.20 H478.40" fill="none" stroke="#111111" stroke-width="1.6"/>
<path d="M199.90,151.40 V211.40" fill="none" stroke="#111111" stroke-width="1.4"/>
<path d="M199.20,210.70 H284.30" fill="none" stroke="#111111" stroke-width="1.6"/>
<path d="M317.20,151.40 V211.40" fill="none" stroke="#111111" stroke-width="1.4"/>
<path d="M316.50,210.70 H401.30" fill="none" stroke="#111111" stroke-width="1.6"/>
<path d="M428.20,151.40 V211.40" fill="none" stroke="#111111" stroke-width="1.4"/>
<path d="M427.50,210.70 H513.10" fill="none" stroke="#111111" stroke-width="1.6"/>
<path d="M265.50,271.80 V347.30" fill="none" stroke="#111111" stroke-width="1.4"/>
<path d="M264.80,346.60 H331.20" fill="none" stroke="#111111" stroke-width="1.6"/>
<path d="M376.00,270.40 V347.30" fill="none" stroke="#111111" stroke-width="1.4"/>
<path d="M375.30,346.60 H442.70" fill="none" stroke="#111111" stroke-width="1.6"/>
<path d="M64.90,409.60 V491.60" fill="none" stroke="#111111" stroke-width="1.4"/>
<path d="M64.20,490.90 H170.80" fill="none" stroke="#111111" stroke-width="1.6"/>
<path d="M229.50,399.80 V491.60" fill="none" stroke="#111111" stroke-width="1.4"/>
<path d="M228.80,490.90 H284.70" fill="none" stroke="#111111" stroke-width="1.6"/>
<path d="M330.80,399.60 V491.60" fill="none" stroke="#111111" stroke-width="1.4"/>
<path d="M330.10,490.90 H387.30" fill="none" stroke="#111111" stroke-width="1.6"/>
<rect x="0" y="0" width="1.4" height="550" fill="#000"/>
<rect x="0" y="0" width="520" height="1.2" fill="#000"/>
<rect x="518.75" y="0" width="1.25" height="550" fill="#000"/>
<rect x="0" y="548.45" width="520" height="1.55" fill="#000"/>
</svg>
</body>
</html>
